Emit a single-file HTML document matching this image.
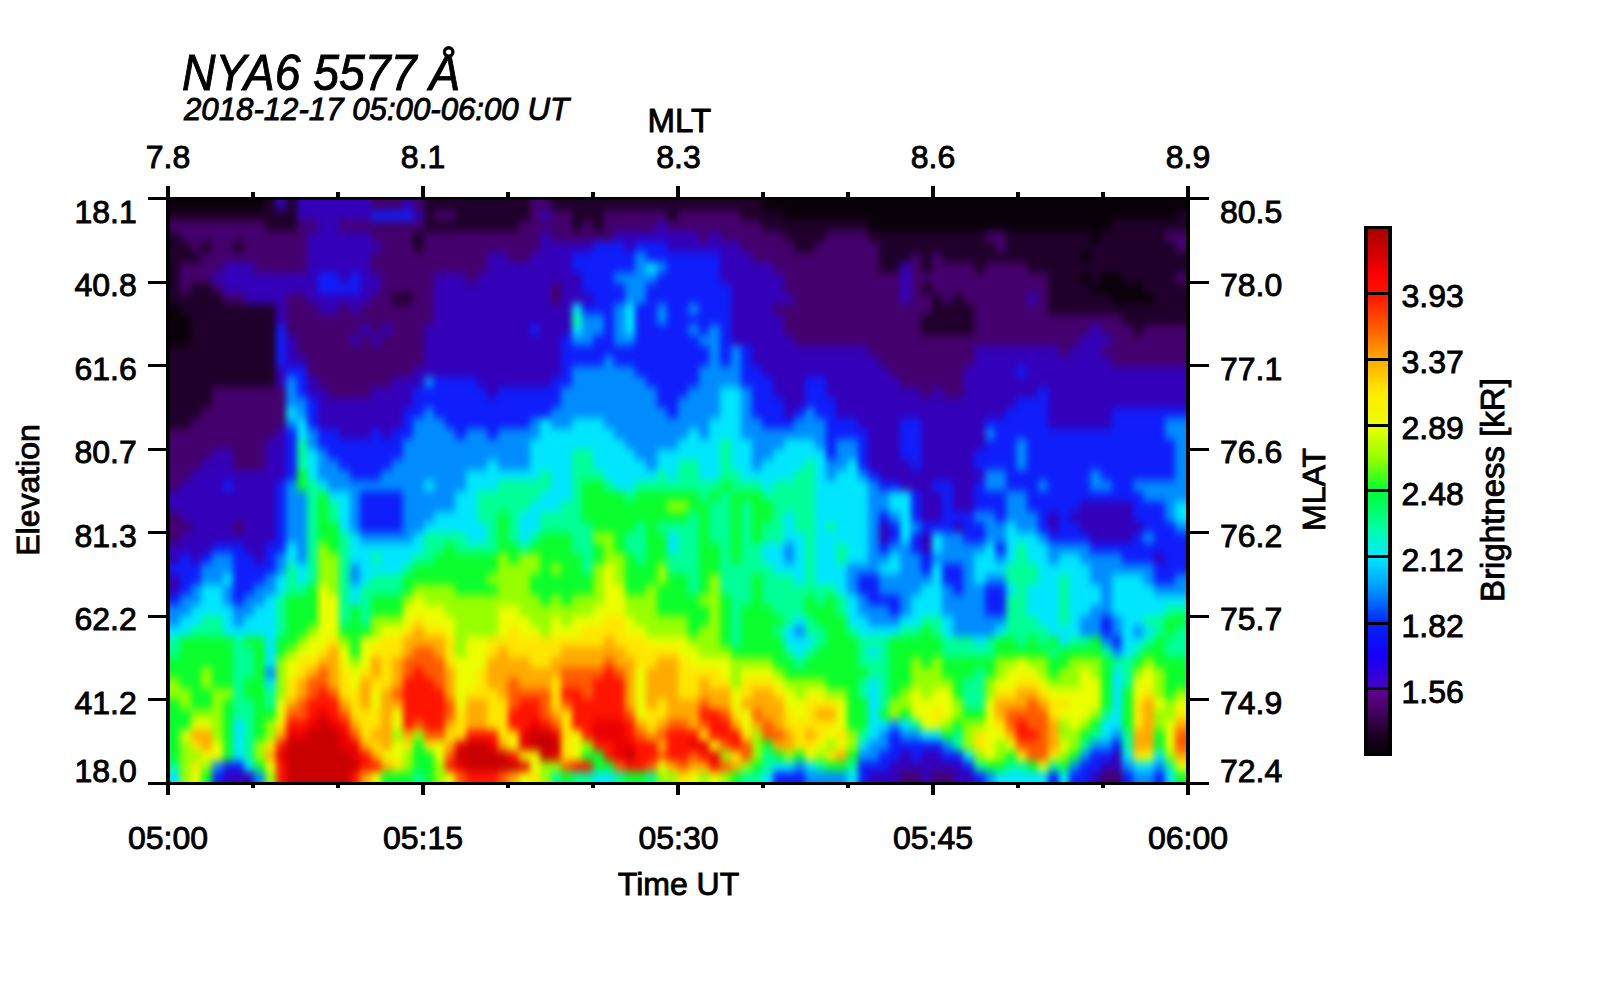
<!DOCTYPE html>
<html><head><meta charset="utf-8"><style>
html,body{margin:0;padding:0;background:#fff;}
body{width:1600px;height:1000px;position:relative;overflow:hidden;font-family:"Liberation Sans",Arial,Helvetica,sans-serif;}
#img{position:absolute;left:170px;top:200px;width:1016px;height:582px;overflow:hidden;}
#inner{position:absolute;left:-12px;top:-12px;width:1040px;height:606px;filter:blur(3px);}
#img i{position:absolute;top:0;height:100%;display:block;}
#cb{position:absolute;left:1364px;top:226px;width:20px;height:524px;border-style:solid;border-color:#000;border-width:3px 4px;background:linear-gradient(#aa0000 0.00%,#d70000 5.00%,#ff0000 8.75%,#ff1400 12.50%,#ff5a00 18.75%,#ffaa00 25.00%,#ffeb00 31.25%,#ebff00 37.50%,#96ff00 43.75%,#00ff32 50.00%,#00ff96 56.25%,#00ebff 62.50%,#0096ff 68.75%,#0028ff 75.00%,#1400fa 81.25%,#4600c8 87.50%,#640096 87.50%,#500073 90.62%,#37004b 93.75%,#19001e 96.88%,#0a000c 100.00%);}
#cb b{position:absolute;left:0;width:100%;height:3px;background:#000;}
svg{position:absolute;left:0;top:0;}
svg text{font-family:"Liberation Sans",Arial,Helvetica,sans-serif;fill:#000;stroke:#000;stroke-width:0.9px;}
</style></head><body>
<div id="img"><div id="inner">
<i style="left:-9.47px;width:11.18px;background:linear-gradient(#0a000a 6.8px,#0a000a 17.2px,#20002a 27.6px,#44006c 38.0px,#20002a 48.4px,#20002a 58.8px,#20002a 69.2px,#20002a 79.6px,#20002a 89.9px,#20002a 100.3px,#20002a 110.7px,#0a000a 121.1px,#0a000a 131.5px,#0a000a 141.9px,#0a000a 152.3px,#20002a 162.7px,#20002a 173.1px,#20002a 183.5px,#20002a 193.9px,#20002a 204.3px,#20002a 214.7px,#20002a 225.1px,#20002a 235.4px,#44006c 245.8px,#44006c 256.2px,#44006c 266.6px,#44006c 277.0px,#44006c 287.4px,#44006c 297.8px,#3400b9 308.2px,#3400b9 318.6px,#44006c 329.0px,#44006c 339.4px,#44006c 349.8px,#3400b9 360.2px,#3400b9 370.6px,#0f1efa 380.9px,#3400b9 391.3px,#3400b9 401.7px,#0f1efa 412.1px,#008cff 422.5px,#008cff 432.9px,#00e6ff 443.3px,#00ff96 453.7px,#00ff96 464.1px,#0aff2d 474.5px,#0aff2d 484.9px,#96ff00 495.3px,#96ff00 505.7px,#0aff2d 516.1px,#0aff2d 526.4px,#0aff2d 536.8px,#0aff2d 547.2px,#0aff2d 557.6px,#0aff2d 568.0px,#00ff96 578.4px,#00e6ff 588.8px,#00e6ff 599.2px)"></i>
<i style="left:1.12px;width:11.18px;background:linear-gradient(#0a000a 6.8px,#0a000a 17.2px,#20002a 27.6px,#44006c 38.0px,#20002a 48.4px,#20002a 58.8px,#20002a 69.2px,#20002a 79.6px,#20002a 89.9px,#20002a 100.3px,#20002a 110.7px,#0a000a 121.1px,#0a000a 131.5px,#0a000a 141.9px,#0a000a 152.3px,#20002a 162.7px,#20002a 173.1px,#20002a 183.5px,#20002a 193.9px,#20002a 204.3px,#20002a 214.7px,#20002a 225.1px,#20002a 235.4px,#44006c 245.8px,#44006c 256.2px,#44006c 266.6px,#44006c 277.0px,#44006c 287.4px,#44006c 297.8px,#3400b9 308.2px,#3400b9 318.6px,#44006c 329.0px,#44006c 339.4px,#44006c 349.8px,#3400b9 360.2px,#3400b9 370.6px,#0f1efa 380.9px,#3400b9 391.3px,#3400b9 401.7px,#0f1efa 412.1px,#008cff 422.5px,#008cff 432.9px,#00e6ff 443.3px,#00ff96 453.7px,#00ff96 464.1px,#0aff2d 474.5px,#0aff2d 484.9px,#96ff00 495.3px,#96ff00 505.7px,#0aff2d 516.1px,#0aff2d 526.4px,#0aff2d 536.8px,#0aff2d 547.2px,#0aff2d 557.6px,#0aff2d 568.0px,#00ff96 578.4px,#00e6ff 588.8px,#00e6ff 599.2px)"></i>
<i style="left:11.70px;width:11.18px;background:linear-gradient(#0a000a 6.8px,#0a000a 17.2px,#20002a 27.6px,#44006c 38.0px,#20002a 48.4px,#20002a 58.8px,#20002a 69.2px,#20002a 79.6px,#20002a 89.9px,#20002a 100.3px,#20002a 110.7px,#0a000a 121.1px,#0a000a 131.5px,#0a000a 141.9px,#0a000a 152.3px,#20002a 162.7px,#20002a 173.1px,#20002a 183.5px,#20002a 193.9px,#20002a 204.3px,#20002a 214.7px,#20002a 225.1px,#20002a 235.4px,#44006c 245.8px,#44006c 256.2px,#44006c 266.6px,#44006c 277.0px,#44006c 287.4px,#44006c 297.8px,#3400b9 308.2px,#3400b9 318.6px,#44006c 329.0px,#44006c 339.4px,#44006c 349.8px,#3400b9 360.2px,#3400b9 370.6px,#0f1efa 380.9px,#3400b9 391.3px,#3400b9 401.7px,#0f1efa 412.1px,#008cff 422.5px,#008cff 432.9px,#00e6ff 443.3px,#00ff96 453.7px,#00ff96 464.1px,#0aff2d 474.5px,#0aff2d 484.9px,#96ff00 495.3px,#96ff00 505.7px,#0aff2d 516.1px,#0aff2d 526.4px,#0aff2d 536.8px,#0aff2d 547.2px,#0aff2d 557.6px,#0aff2d 568.0px,#00ff96 578.4px,#00e6ff 588.8px,#00e6ff 599.2px)"></i>
<i style="left:22.28px;width:11.18px;background:linear-gradient(#0a000a 6.8px,#0a000a 17.2px,#20002a 27.6px,#44006c 38.0px,#44006c 48.4px,#20002a 58.8px,#20002a 69.2px,#44006c 79.6px,#44006c 89.9px,#44006c 100.3px,#20002a 110.7px,#20002a 121.1px,#0a000a 131.5px,#0a000a 141.9px,#0a000a 152.3px,#20002a 162.7px,#20002a 173.1px,#20002a 183.5px,#20002a 193.9px,#20002a 204.3px,#20002a 214.7px,#20002a 225.1px,#20002a 235.4px,#44006c 245.8px,#44006c 256.2px,#44006c 266.6px,#44006c 277.0px,#44006c 287.4px,#3400b9 297.8px,#3400b9 308.2px,#3400b9 318.6px,#3400b9 329.0px,#44006c 339.4px,#3400b9 349.8px,#3400b9 360.2px,#0f1efa 370.6px,#0f1efa 380.9px,#0f1efa 391.3px,#0f1efa 401.7px,#008cff 412.1px,#008cff 422.5px,#00e6ff 432.9px,#00e6ff 443.3px,#0aff2d 453.7px,#0aff2d 464.1px,#0aff2d 474.5px,#0aff2d 484.9px,#0aff2d 495.3px,#96ff00 505.7px,#96ff00 516.1px,#0aff2d 526.4px,#0aff2d 536.8px,#ebff00 547.2px,#96ff00 557.6px,#96ff00 568.0px,#96ff00 578.4px,#96ff00 588.8px,#96ff00 599.2px)"></i>
<i style="left:32.87px;width:11.18px;background:linear-gradient(#0a000a 6.8px,#0a000a 17.2px,#20002a 27.6px,#44006c 38.0px,#44006c 48.4px,#44006c 58.8px,#20002a 69.2px,#44006c 79.6px,#44006c 89.9px,#20002a 100.3px,#20002a 110.7px,#20002a 121.1px,#20002a 131.5px,#20002a 141.9px,#20002a 152.3px,#20002a 162.7px,#20002a 173.1px,#20002a 183.5px,#20002a 193.9px,#20002a 204.3px,#20002a 214.7px,#20002a 225.1px,#44006c 235.4px,#44006c 245.8px,#44006c 256.2px,#44006c 266.6px,#44006c 277.0px,#3400b9 287.4px,#3400b9 297.8px,#3400b9 308.2px,#3400b9 318.6px,#3400b9 329.0px,#3400b9 339.4px,#3400b9 349.8px,#3400b9 360.2px,#3400b9 370.6px,#0f1efa 380.9px,#0f1efa 391.3px,#008cff 401.7px,#008cff 412.1px,#00e6ff 422.5px,#00e6ff 432.9px,#00ff96 443.3px,#0aff2d 453.7px,#0aff2d 464.1px,#0aff2d 474.5px,#0aff2d 484.9px,#0aff2d 495.3px,#0aff2d 505.7px,#0aff2d 516.1px,#96ff00 526.4px,#ebff00 536.8px,#ffaa00 547.2px,#ffe600 557.6px,#96ff00 568.0px,#ffe600 578.4px,#ebff00 588.8px,#ebff00 599.2px)"></i>
<i style="left:43.45px;width:11.18px;background:linear-gradient(#0a000a 6.8px,#0a000a 17.2px,#20002a 27.6px,#44006c 38.0px,#44006c 48.4px,#20002a 58.8px,#44006c 69.2px,#44006c 79.6px,#44006c 89.9px,#20002a 100.3px,#20002a 110.7px,#20002a 121.1px,#20002a 131.5px,#20002a 141.9px,#20002a 152.3px,#20002a 162.7px,#20002a 173.1px,#20002a 183.5px,#20002a 193.9px,#20002a 204.3px,#20002a 214.7px,#44006c 225.1px,#44006c 235.4px,#44006c 245.8px,#44006c 256.2px,#44006c 266.6px,#3400b9 277.0px,#3400b9 287.4px,#3400b9 297.8px,#3400b9 308.2px,#3400b9 318.6px,#3400b9 329.0px,#3400b9 339.4px,#3400b9 349.8px,#3400b9 360.2px,#0f1efa 370.6px,#008cff 380.9px,#008cff 391.3px,#00e6ff 401.7px,#00e6ff 412.1px,#00e6ff 422.5px,#00ff96 432.9px,#00ff96 443.3px,#0aff2d 453.7px,#0aff2d 464.1px,#0aff2d 474.5px,#96ff00 484.9px,#96ff00 495.3px,#0aff2d 505.7px,#0aff2d 516.1px,#96ff00 526.4px,#ebff00 536.8px,#ffaa00 547.2px,#ffaa00 557.6px,#ebff00 568.0px,#96ff00 578.4px,#0aff2d 588.8px,#0aff2d 599.2px)"></i>
<i style="left:54.03px;width:11.18px;background:linear-gradient(#0a000a 6.8px,#0a000a 17.2px,#20002a 27.6px,#44006c 38.0px,#44006c 48.4px,#44006c 58.8px,#44006c 69.2px,#44006c 79.6px,#3400b9 89.9px,#44006c 100.3px,#20002a 110.7px,#20002a 121.1px,#20002a 131.5px,#20002a 141.9px,#20002a 152.3px,#20002a 162.7px,#20002a 173.1px,#20002a 183.5px,#20002a 193.9px,#44006c 204.3px,#44006c 214.7px,#44006c 225.1px,#44006c 235.4px,#44006c 245.8px,#44006c 256.2px,#3400b9 266.6px,#3400b9 277.0px,#3400b9 287.4px,#3400b9 297.8px,#3400b9 308.2px,#3400b9 318.6px,#3400b9 329.0px,#3400b9 339.4px,#3400b9 349.8px,#0f1efa 360.2px,#008cff 370.6px,#008cff 380.9px,#008cff 391.3px,#00e6ff 401.7px,#00e6ff 412.1px,#00e6ff 422.5px,#00ff96 432.9px,#00ff96 443.3px,#0aff2d 453.7px,#0aff2d 464.1px,#0aff2d 474.5px,#0aff2d 484.9px,#0aff2d 495.3px,#96ff00 505.7px,#96ff00 516.1px,#96ff00 526.4px,#96ff00 536.8px,#96ff00 547.2px,#ebff00 557.6px,#ebff00 568.0px,#008cff 578.4px,#0f1efa 588.8px,#0f1efa 599.2px)"></i>
<i style="left:64.62px;width:11.18px;background:linear-gradient(#0a000a 6.8px,#0a000a 17.2px,#20002a 27.6px,#44006c 38.0px,#44006c 48.4px,#44006c 58.8px,#44006c 69.2px,#3400b9 79.6px,#3400b9 89.9px,#3400b9 100.3px,#44006c 110.7px,#20002a 121.1px,#20002a 131.5px,#20002a 141.9px,#20002a 152.3px,#20002a 162.7px,#20002a 173.1px,#20002a 183.5px,#20002a 193.9px,#44006c 204.3px,#44006c 214.7px,#44006c 225.1px,#44006c 235.4px,#44006c 245.8px,#44006c 256.2px,#3400b9 266.6px,#3400b9 277.0px,#3400b9 287.4px,#0f1efa 297.8px,#3400b9 308.2px,#3400b9 318.6px,#3400b9 329.0px,#3400b9 339.4px,#3400b9 349.8px,#0f1efa 360.2px,#008cff 370.6px,#008cff 380.9px,#00e6ff 391.3px,#008cff 401.7px,#008cff 412.1px,#00e6ff 422.5px,#00e6ff 432.9px,#00e6ff 443.3px,#0aff2d 453.7px,#0aff2d 464.1px,#0aff2d 474.5px,#0aff2d 484.9px,#0aff2d 495.3px,#96ff00 505.7px,#0aff2d 516.1px,#0aff2d 526.4px,#0aff2d 536.8px,#0aff2d 547.2px,#0aff2d 557.6px,#0aff2d 568.0px,#0f1efa 578.4px,#3400b9 588.8px,#3400b9 599.2px)"></i>
<i style="left:75.20px;width:11.18px;background:linear-gradient(#0a000a 6.8px,#0a000a 17.2px,#20002a 27.6px,#44006c 38.0px,#44006c 48.4px,#20002a 58.8px,#44006c 69.2px,#3400b9 79.6px,#3400b9 89.9px,#3400b9 100.3px,#44006c 110.7px,#20002a 121.1px,#20002a 131.5px,#20002a 141.9px,#20002a 152.3px,#20002a 162.7px,#20002a 173.1px,#20002a 183.5px,#20002a 193.9px,#44006c 204.3px,#44006c 214.7px,#44006c 225.1px,#44006c 235.4px,#44006c 245.8px,#44006c 256.2px,#44006c 266.6px,#44006c 277.0px,#3400b9 287.4px,#3400b9 297.8px,#3400b9 308.2px,#3400b9 318.6px,#3400b9 329.0px,#44006c 339.4px,#3400b9 349.8px,#0f1efa 360.2px,#0f1efa 370.6px,#0f1efa 380.9px,#0f1efa 391.3px,#0f1efa 401.7px,#0f1efa 412.1px,#008cff 422.5px,#008cff 432.9px,#00e6ff 443.3px,#00ff96 453.7px,#00ff96 464.1px,#00ff96 474.5px,#00ff96 484.9px,#00ff96 495.3px,#00ff96 505.7px,#00ff96 516.1px,#00ff96 526.4px,#00e6ff 536.8px,#00e6ff 547.2px,#00e6ff 557.6px,#00e6ff 568.0px,#0f1efa 578.4px,#3400b9 588.8px,#3400b9 599.2px)"></i>
<i style="left:85.78px;width:11.18px;background:linear-gradient(#0a000a 6.8px,#0a000a 17.2px,#20002a 27.6px,#44006c 38.0px,#44006c 48.4px,#44006c 58.8px,#44006c 69.2px,#3400b9 79.6px,#3400b9 89.9px,#3400b9 100.3px,#3400b9 110.7px,#20002a 121.1px,#20002a 131.5px,#20002a 141.9px,#20002a 152.3px,#20002a 162.7px,#20002a 173.1px,#20002a 183.5px,#20002a 193.9px,#44006c 204.3px,#44006c 214.7px,#44006c 225.1px,#44006c 235.4px,#44006c 245.8px,#44006c 256.2px,#44006c 266.6px,#44006c 277.0px,#3400b9 287.4px,#3400b9 297.8px,#3400b9 308.2px,#3400b9 318.6px,#3400b9 329.0px,#3400b9 339.4px,#3400b9 349.8px,#3400b9 360.2px,#0f1efa 370.6px,#0f1efa 380.9px,#0f1efa 391.3px,#0f1efa 401.7px,#008cff 412.1px,#008cff 422.5px,#00e6ff 432.9px,#00e6ff 443.3px,#0aff2d 453.7px,#00ff96 464.1px,#00ff96 474.5px,#00ff96 484.9px,#0aff2d 495.3px,#0aff2d 505.7px,#00ff96 516.1px,#00ff96 526.4px,#00ff96 536.8px,#00ff96 547.2px,#00ff96 557.6px,#00ff96 568.0px,#00e6ff 578.4px,#3400b9 588.8px,#3400b9 599.2px)"></i>
<i style="left:96.37px;width:11.18px;background:linear-gradient(#0a000a 6.8px,#0a000a 17.2px,#20002a 27.6px,#44006c 38.0px,#44006c 48.4px,#44006c 58.8px,#44006c 69.2px,#44006c 79.6px,#3400b9 89.9px,#3400b9 100.3px,#3400b9 110.7px,#20002a 121.1px,#20002a 131.5px,#20002a 141.9px,#20002a 152.3px,#20002a 162.7px,#20002a 173.1px,#20002a 183.5px,#20002a 193.9px,#44006c 204.3px,#44006c 214.7px,#44006c 225.1px,#44006c 235.4px,#44006c 245.8px,#44006c 256.2px,#44006c 266.6px,#44006c 277.0px,#3400b9 287.4px,#3400b9 297.8px,#3400b9 308.2px,#3400b9 318.6px,#3400b9 329.0px,#3400b9 339.4px,#3400b9 349.8px,#3400b9 360.2px,#3400b9 370.6px,#0f1efa 380.9px,#0f1efa 391.3px,#008cff 401.7px,#008cff 412.1px,#00e6ff 422.5px,#00e6ff 432.9px,#00e6ff 443.3px,#0aff2d 453.7px,#0aff2d 464.1px,#0aff2d 474.5px,#0aff2d 484.9px,#0aff2d 495.3px,#0aff2d 505.7px,#0aff2d 516.1px,#0aff2d 526.4px,#0aff2d 536.8px,#0aff2d 547.2px,#96ff00 557.6px,#96ff00 568.0px,#0aff2d 578.4px,#008cff 588.8px,#008cff 599.2px)"></i>
<i style="left:106.95px;width:11.18px;background:linear-gradient(#20002a 6.8px,#20002a 17.2px,#20002a 27.6px,#20002a 38.0px,#44006c 48.4px,#44006c 58.8px,#44006c 69.2px,#44006c 79.6px,#3400b9 89.9px,#3400b9 100.3px,#3400b9 110.7px,#20002a 121.1px,#20002a 131.5px,#20002a 141.9px,#20002a 152.3px,#20002a 162.7px,#20002a 173.1px,#20002a 183.5px,#20002a 193.9px,#44006c 204.3px,#44006c 214.7px,#44006c 225.1px,#44006c 235.4px,#44006c 245.8px,#3400b9 256.2px,#3400b9 266.6px,#3400b9 277.0px,#3400b9 287.4px,#3400b9 297.8px,#3400b9 308.2px,#3400b9 318.6px,#3400b9 329.0px,#3400b9 339.4px,#3400b9 349.8px,#0f1efa 360.2px,#0f1efa 370.6px,#0f1efa 380.9px,#008cff 391.3px,#008cff 401.7px,#00e6ff 412.1px,#00e6ff 422.5px,#00e6ff 432.9px,#00e6ff 443.3px,#00e6ff 453.7px,#00e6ff 464.1px,#00e6ff 474.5px,#008cff 484.9px,#00e6ff 495.3px,#00ff96 505.7px,#00ff96 516.1px,#0aff2d 526.4px,#96ff00 536.8px,#96ff00 547.2px,#ffe600 557.6px,#ffaa00 568.0px,#ebff00 578.4px,#96ff00 588.8px,#96ff00 599.2px)"></i>
<i style="left:117.53px;width:11.18px;background:linear-gradient(#3400b9 6.8px,#3400b9 17.2px,#20002a 27.6px,#20002a 38.0px,#44006c 48.4px,#44006c 58.8px,#44006c 69.2px,#44006c 79.6px,#3400b9 89.9px,#3400b9 100.3px,#3400b9 110.7px,#3400b9 121.1px,#3400b9 131.5px,#0f1efa 141.9px,#0f1efa 152.3px,#0f1efa 162.7px,#0f1efa 173.1px,#3400b9 183.5px,#3400b9 193.9px,#44006c 204.3px,#44006c 214.7px,#44006c 225.1px,#44006c 235.4px,#3400b9 245.8px,#3400b9 256.2px,#3400b9 266.6px,#3400b9 277.0px,#3400b9 287.4px,#0f1efa 297.8px,#0f1efa 308.2px,#0f1efa 318.6px,#0f1efa 329.0px,#0f1efa 339.4px,#0f1efa 349.8px,#0f1efa 360.2px,#008cff 370.6px,#008cff 380.9px,#00e6ff 391.3px,#00e6ff 401.7px,#00ff96 412.1px,#00ff96 422.5px,#00ff96 432.9px,#00ff96 443.3px,#0aff2d 453.7px,#0aff2d 464.1px,#96ff00 474.5px,#96ff00 484.9px,#96ff00 495.3px,#96ff00 505.7px,#ebff00 516.1px,#ebff00 526.4px,#ffe600 536.8px,#ffaa00 547.2px,#ff1400 557.6px,#eb0000 568.0px,#ff1400 578.4px,#ff1400 588.8px,#ff1400 599.2px)"></i>
<i style="left:128.12px;width:11.18px;background:linear-gradient(#20002a 6.8px,#20002a 17.2px,#20002a 27.6px,#20002a 38.0px,#44006c 48.4px,#44006c 58.8px,#44006c 69.2px,#44006c 79.6px,#3400b9 89.9px,#3400b9 100.3px,#44006c 110.7px,#44006c 121.1px,#44006c 131.5px,#44006c 141.9px,#3400b9 152.3px,#3400b9 162.7px,#3400b9 173.1px,#0f1efa 183.5px,#008cff 193.9px,#008cff 204.3px,#008cff 214.7px,#00e6ff 225.1px,#008cff 235.4px,#0f1efa 245.8px,#0f1efa 256.2px,#0f1efa 266.6px,#0f1efa 277.0px,#0f1efa 287.4px,#008cff 297.8px,#008cff 308.2px,#008cff 318.6px,#008cff 329.0px,#008cff 339.4px,#008cff 349.8px,#00e6ff 360.2px,#00e6ff 370.6px,#00ff96 380.9px,#00ff96 391.3px,#00ff96 401.7px,#0aff2d 412.1px,#0aff2d 422.5px,#0aff2d 432.9px,#0aff2d 443.3px,#0aff2d 453.7px,#96ff00 464.1px,#ebff00 474.5px,#ebff00 484.9px,#ffe600 495.3px,#ffe600 505.7px,#ffaa00 516.1px,#ff5a00 526.4px,#ff1400 536.8px,#eb0000 547.2px,#c80000 557.6px,#c80000 568.0px,#c80000 578.4px,#c80000 588.8px,#c80000 599.2px)"></i>
<i style="left:138.70px;width:11.18px;background:linear-gradient(#3400b9 6.8px,#3400b9 17.2px,#3400b9 27.6px,#44006c 38.0px,#44006c 48.4px,#44006c 58.8px,#44006c 69.2px,#44006c 79.6px,#3400b9 89.9px,#3400b9 100.3px,#44006c 110.7px,#44006c 121.1px,#44006c 131.5px,#44006c 141.9px,#44006c 152.3px,#44006c 162.7px,#3400b9 173.1px,#0f1efa 183.5px,#0f1efa 193.9px,#0f1efa 204.3px,#008cff 214.7px,#008cff 225.1px,#00e6ff 235.4px,#00e6ff 245.8px,#00ff96 256.2px,#00ff96 266.6px,#00ff96 277.0px,#0aff2d 287.4px,#0aff2d 297.8px,#008cff 308.2px,#008cff 318.6px,#008cff 329.0px,#008cff 339.4px,#008cff 349.8px,#008cff 360.2px,#008cff 370.6px,#00e6ff 380.9px,#00e6ff 391.3px,#00ff96 401.7px,#0aff2d 412.1px,#0aff2d 422.5px,#0aff2d 432.9px,#0aff2d 443.3px,#96ff00 453.7px,#ebff00 464.1px,#ffe600 474.5px,#ffe600 484.9px,#ffaa00 495.3px,#ffaa00 505.7px,#ff5a00 516.1px,#ff5a00 526.4px,#ff1400 536.8px,#eb0000 547.2px,#c80000 557.6px,#c80000 568.0px,#c80000 578.4px,#c80000 588.8px,#c80000 599.2px)"></i>
<i style="left:149.28px;width:11.18px;background:linear-gradient(#3400b9 6.8px,#3400b9 17.2px,#3400b9 27.6px,#44006c 38.0px,#3400b9 48.4px,#3400b9 58.8px,#3400b9 69.2px,#3400b9 79.6px,#3400b9 89.9px,#3400b9 100.3px,#3400b9 110.7px,#44006c 121.1px,#44006c 131.5px,#44006c 141.9px,#44006c 152.3px,#44006c 162.7px,#44006c 173.1px,#44006c 183.5px,#3400b9 193.9px,#3400b9 204.3px,#0f1efa 214.7px,#0f1efa 225.1px,#0f1efa 235.4px,#008cff 245.8px,#008cff 256.2px,#00e6ff 266.6px,#00e6ff 277.0px,#00e6ff 287.4px,#00ff96 297.8px,#00ff96 308.2px,#00ff96 318.6px,#00ff96 329.0px,#00ff96 339.4px,#00ff96 349.8px,#00ff96 360.2px,#00ff96 370.6px,#00ff96 380.9px,#00ff96 391.3px,#0aff2d 401.7px,#0aff2d 412.1px,#0aff2d 422.5px,#0aff2d 432.9px,#96ff00 443.3px,#ebff00 453.7px,#ebff00 464.1px,#ffe600 474.5px,#ffaa00 484.9px,#ff5a00 495.3px,#ff5a00 505.7px,#ff1400 516.1px,#ff1400 526.4px,#eb0000 536.8px,#c80000 547.2px,#c80000 557.6px,#c80000 568.0px,#c80000 578.4px,#c80000 588.8px,#c80000 599.2px)"></i>
<i style="left:159.87px;width:11.18px;background:linear-gradient(#3400b9 6.8px,#3400b9 17.2px,#3400b9 27.6px,#3400b9 38.0px,#3400b9 48.4px,#3400b9 58.8px,#3400b9 69.2px,#3400b9 79.6px,#0f1efa 89.9px,#0f1efa 100.3px,#3400b9 110.7px,#3400b9 121.1px,#44006c 131.5px,#44006c 141.9px,#44006c 152.3px,#44006c 162.7px,#44006c 173.1px,#44006c 183.5px,#44006c 193.9px,#3400b9 204.3px,#3400b9 214.7px,#3400b9 225.1px,#3400b9 235.4px,#0f1efa 245.8px,#0f1efa 256.2px,#008cff 266.6px,#008cff 277.0px,#008cff 287.4px,#00e6ff 297.8px,#0aff2d 308.2px,#0aff2d 318.6px,#0aff2d 329.0px,#0aff2d 339.4px,#0aff2d 349.8px,#96ff00 360.2px,#96ff00 370.6px,#96ff00 380.9px,#96ff00 391.3px,#ebff00 401.7px,#ebff00 412.1px,#ebff00 422.5px,#ebff00 432.9px,#ebff00 443.3px,#ebff00 453.7px,#ffe600 464.1px,#ffaa00 474.5px,#ff5a00 484.9px,#ff5a00 495.3px,#ff1400 505.7px,#ff1400 516.1px,#eb0000 526.4px,#c80000 536.8px,#c80000 547.2px,#c80000 557.6px,#c80000 568.0px,#c80000 578.4px,#c80000 588.8px,#c80000 599.2px)"></i>
<i style="left:170.45px;width:11.18px;background:linear-gradient(#3400b9 6.8px,#3400b9 17.2px,#3400b9 27.6px,#3400b9 38.0px,#3400b9 48.4px,#3400b9 58.8px,#3400b9 69.2px,#3400b9 79.6px,#0f1efa 89.9px,#0f1efa 100.3px,#3400b9 110.7px,#3400b9 121.1px,#44006c 131.5px,#44006c 141.9px,#44006c 152.3px,#44006c 162.7px,#44006c 173.1px,#44006c 183.5px,#44006c 193.9px,#44006c 204.3px,#3400b9 214.7px,#3400b9 225.1px,#3400b9 235.4px,#0f1efa 245.8px,#0f1efa 256.2px,#0f1efa 266.6px,#008cff 277.0px,#008cff 287.4px,#008cff 297.8px,#00e6ff 308.2px,#00ff96 318.6px,#00ff96 329.0px,#0aff2d 339.4px,#0aff2d 349.8px,#0aff2d 360.2px,#96ff00 370.6px,#96ff00 380.9px,#96ff00 391.3px,#96ff00 401.7px,#ebff00 412.1px,#ebff00 422.5px,#ebff00 432.9px,#ebff00 443.3px,#ffe600 453.7px,#ffaa00 464.1px,#ffaa00 474.5px,#ffaa00 484.9px,#ffaa00 495.3px,#ff5a00 505.7px,#ff1400 516.1px,#ff1400 526.4px,#eb0000 536.8px,#c80000 547.2px,#c80000 557.6px,#c80000 568.0px,#c80000 578.4px,#c80000 588.8px,#c80000 599.2px)"></i>
<i style="left:181.03px;width:11.18px;background:linear-gradient(#3400b9 6.8px,#3400b9 17.2px,#3400b9 27.6px,#44006c 38.0px,#3400b9 48.4px,#3400b9 58.8px,#3400b9 69.2px,#3400b9 79.6px,#3400b9 89.9px,#0f1efa 100.3px,#3400b9 110.7px,#44006c 121.1px,#44006c 131.5px,#44006c 141.9px,#44006c 152.3px,#44006c 162.7px,#44006c 173.1px,#44006c 183.5px,#44006c 193.9px,#44006c 204.3px,#3400b9 214.7px,#3400b9 225.1px,#3400b9 235.4px,#3400b9 245.8px,#0f1efa 256.2px,#0f1efa 266.6px,#0f1efa 277.0px,#008cff 287.4px,#008cff 297.8px,#00e6ff 308.2px,#00e6ff 318.6px,#00e6ff 329.0px,#00e6ff 339.4px,#00ff96 349.8px,#00ff96 360.2px,#00ff96 370.6px,#00ff96 380.9px,#00ff96 391.3px,#00ff96 401.7px,#00ff96 412.1px,#00ff96 422.5px,#00ff96 432.9px,#0aff2d 443.3px,#96ff00 453.7px,#ebff00 464.1px,#ebff00 474.5px,#ffe600 484.9px,#ffe600 495.3px,#ffe600 505.7px,#ffaa00 516.1px,#ff5a00 526.4px,#ff1400 536.8px,#eb0000 547.2px,#eb0000 557.6px,#c80000 568.0px,#c80000 578.4px,#c80000 588.8px,#c80000 599.2px)"></i>
<i style="left:191.62px;width:11.18px;background:linear-gradient(#3400b9 6.8px,#3400b9 17.2px,#3400b9 27.6px,#44006c 38.0px,#3400b9 48.4px,#3400b9 58.8px,#3400b9 69.2px,#3400b9 79.6px,#0f1efa 89.9px,#0f1efa 100.3px,#3400b9 110.7px,#3400b9 121.1px,#44006c 131.5px,#44006c 141.9px,#3400b9 152.3px,#44006c 162.7px,#44006c 173.1px,#44006c 183.5px,#44006c 193.9px,#44006c 204.3px,#3400b9 214.7px,#3400b9 225.1px,#3400b9 235.4px,#3400b9 245.8px,#0f1efa 256.2px,#0f1efa 266.6px,#0f1efa 277.0px,#0f1efa 287.4px,#008cff 297.8px,#008cff 308.2px,#008cff 318.6px,#008cff 329.0px,#008cff 339.4px,#00e6ff 349.8px,#00e6ff 360.2px,#00e6ff 370.6px,#008cff 380.9px,#008cff 391.3px,#00e6ff 401.7px,#00e6ff 412.1px,#0aff2d 422.5px,#0aff2d 432.9px,#0aff2d 443.3px,#0aff2d 453.7px,#0aff2d 464.1px,#96ff00 474.5px,#ebff00 484.9px,#ebff00 495.3px,#ffe600 505.7px,#ffe600 516.1px,#ffe600 526.4px,#ffaa00 536.8px,#ff5a00 547.2px,#eb0000 557.6px,#eb0000 568.0px,#c80000 578.4px,#ff1400 588.8px,#ff1400 599.2px)"></i>
<i style="left:202.20px;width:11.18px;background:linear-gradient(#3400b9 6.8px,#3400b9 17.2px,#3400b9 27.6px,#44006c 38.0px,#3400b9 48.4px,#3400b9 58.8px,#3400b9 69.2px,#3400b9 79.6px,#3400b9 89.9px,#3400b9 100.3px,#3400b9 110.7px,#44006c 121.1px,#44006c 131.5px,#3400b9 141.9px,#44006c 152.3px,#44006c 162.7px,#44006c 173.1px,#44006c 183.5px,#44006c 193.9px,#44006c 204.3px,#3400b9 214.7px,#3400b9 225.1px,#3400b9 235.4px,#3400b9 245.8px,#0f1efa 256.2px,#0f1efa 266.6px,#0f1efa 277.0px,#0f1efa 287.4px,#008cff 297.8px,#0f1efa 308.2px,#0f1efa 318.6px,#0f1efa 329.0px,#0f1efa 339.4px,#008cff 349.8px,#00e6ff 360.2px,#00e6ff 370.6px,#00e6ff 380.9px,#00e6ff 391.3px,#00ff96 401.7px,#00ff96 412.1px,#00ff96 422.5px,#00ff96 432.9px,#0aff2d 443.3px,#ebff00 453.7px,#ebff00 464.1px,#ebff00 474.5px,#ffe600 484.9px,#ffaa00 495.3px,#ffaa00 505.7px,#ffaa00 516.1px,#ffe600 526.4px,#ffe600 536.8px,#ffe600 547.2px,#ffaa00 557.6px,#ff1400 568.0px,#ff1400 578.4px,#ffaa00 588.8px,#ffaa00 599.2px)"></i>
<i style="left:212.78px;width:11.18px;background:linear-gradient(#44006c 6.8px,#44006c 17.2px,#0f1efa 27.6px,#44006c 38.0px,#44006c 48.4px,#3400b9 58.8px,#44006c 69.2px,#44006c 79.6px,#3400b9 89.9px,#3400b9 100.3px,#44006c 110.7px,#44006c 121.1px,#44006c 131.5px,#44006c 141.9px,#3400b9 152.3px,#44006c 162.7px,#44006c 173.1px,#44006c 183.5px,#44006c 193.9px,#3400b9 204.3px,#3400b9 214.7px,#3400b9 225.1px,#3400b9 235.4px,#0f1efa 245.8px,#0f1efa 256.2px,#0f1efa 266.6px,#0f1efa 277.0px,#0f1efa 287.4px,#008cff 297.8px,#0f1efa 308.2px,#0f1efa 318.6px,#0f1efa 329.0px,#0f1efa 339.4px,#008cff 349.8px,#00e6ff 360.2px,#00ff96 370.6px,#00e6ff 380.9px,#00ff96 391.3px,#00ff96 401.7px,#0aff2d 412.1px,#0aff2d 422.5px,#96ff00 432.9px,#96ff00 443.3px,#ebff00 453.7px,#ffe600 464.1px,#ffaa00 474.5px,#ffaa00 484.9px,#ffe600 495.3px,#ebff00 505.7px,#ebff00 516.1px,#ffe600 526.4px,#ffe600 536.8px,#ffaa00 547.2px,#ffe600 557.6px,#ffaa00 568.0px,#ff1400 578.4px,#ebff00 588.8px,#ebff00 599.2px)"></i>
<i style="left:223.37px;width:11.18px;background:linear-gradient(#44006c 6.8px,#44006c 17.2px,#0f1efa 27.6px,#44006c 38.0px,#44006c 48.4px,#44006c 58.8px,#44006c 69.2px,#44006c 79.6px,#44006c 89.9px,#44006c 100.3px,#44006c 110.7px,#44006c 121.1px,#44006c 131.5px,#3400b9 141.9px,#44006c 152.3px,#44006c 162.7px,#44006c 173.1px,#44006c 183.5px,#44006c 193.9px,#3400b9 204.3px,#3400b9 214.7px,#3400b9 225.1px,#3400b9 235.4px,#3400b9 245.8px,#0f1efa 256.2px,#0f1efa 266.6px,#0f1efa 277.0px,#008cff 287.4px,#008cff 297.8px,#0f1efa 308.2px,#0f1efa 318.6px,#0f1efa 329.0px,#0f1efa 339.4px,#008cff 349.8px,#00e6ff 360.2px,#00e6ff 370.6px,#00e6ff 380.9px,#00ff96 391.3px,#00ff96 401.7px,#0aff2d 412.1px,#0aff2d 422.5px,#96ff00 432.9px,#ebff00 443.3px,#ffe600 453.7px,#ffe600 464.1px,#ffe600 474.5px,#ffe600 484.9px,#ffe600 495.3px,#ffaa00 505.7px,#ffaa00 516.1px,#ffaa00 526.4px,#ffaa00 536.8px,#ffaa00 547.2px,#ffaa00 557.6px,#ebff00 568.0px,#ffaa00 578.4px,#0aff2d 588.8px,#0aff2d 599.2px)"></i>
<i style="left:233.95px;width:11.18px;background:linear-gradient(#44006c 6.8px,#44006c 17.2px,#0f1efa 27.6px,#44006c 38.0px,#44006c 48.4px,#44006c 58.8px,#44006c 69.2px,#44006c 79.6px,#44006c 89.9px,#44006c 100.3px,#20002a 110.7px,#44006c 121.1px,#44006c 131.5px,#44006c 141.9px,#44006c 152.3px,#44006c 162.7px,#44006c 173.1px,#44006c 183.5px,#3400b9 193.9px,#3400b9 204.3px,#3400b9 214.7px,#3400b9 225.1px,#3400b9 235.4px,#0f1efa 245.8px,#0f1efa 256.2px,#0f1efa 266.6px,#008cff 277.0px,#008cff 287.4px,#008cff 297.8px,#0f1efa 308.2px,#0f1efa 318.6px,#0f1efa 329.0px,#0f1efa 339.4px,#008cff 349.8px,#00e6ff 360.2px,#00e6ff 370.6px,#00e6ff 380.9px,#00ff96 391.3px,#00ff96 401.7px,#0aff2d 412.1px,#0aff2d 422.5px,#96ff00 432.9px,#ebff00 443.3px,#ffe600 453.7px,#ffe600 464.1px,#ffaa00 474.5px,#ffaa00 484.9px,#ffaa00 495.3px,#ff5a00 505.7px,#ffaa00 516.1px,#ebff00 526.4px,#ebff00 536.8px,#96ff00 547.2px,#ebff00 557.6px,#ebff00 568.0px,#ffe600 578.4px,#0aff2d 588.8px,#0aff2d 599.2px)"></i>
<i style="left:244.53px;width:11.18px;background:linear-gradient(#3400b9 6.8px,#3400b9 17.2px,#0f1efa 27.6px,#44006c 38.0px,#44006c 48.4px,#44006c 58.8px,#44006c 69.2px,#44006c 79.6px,#44006c 89.9px,#44006c 100.3px,#20002a 110.7px,#44006c 121.1px,#44006c 131.5px,#44006c 141.9px,#44006c 152.3px,#44006c 162.7px,#44006c 173.1px,#44006c 183.5px,#3400b9 193.9px,#3400b9 204.3px,#3400b9 214.7px,#0f1efa 225.1px,#0f1efa 235.4px,#0f1efa 245.8px,#008cff 256.2px,#008cff 266.6px,#008cff 277.0px,#008cff 287.4px,#008cff 297.8px,#008cff 308.2px,#008cff 318.6px,#008cff 329.0px,#008cff 339.4px,#008cff 349.8px,#00e6ff 360.2px,#00e6ff 370.6px,#00ff96 380.9px,#0aff2d 391.3px,#0aff2d 401.7px,#96ff00 412.1px,#ebff00 422.5px,#ebff00 432.9px,#ffe600 443.3px,#ffaa00 453.7px,#ffaa00 464.1px,#ff5a00 474.5px,#ff5a00 484.9px,#ff1400 495.3px,#ff1400 505.7px,#ff1400 516.1px,#ff1400 526.4px,#ff1400 536.8px,#ffaa00 547.2px,#ffe600 557.6px,#96ff00 568.0px,#96ff00 578.4px,#0aff2d 588.8px,#0aff2d 599.2px)"></i>
<i style="left:255.12px;width:11.18px;background:linear-gradient(#44006c 6.8px,#44006c 17.2px,#3400b9 27.6px,#44006c 38.0px,#20002a 48.4px,#20002a 58.8px,#44006c 69.2px,#44006c 79.6px,#44006c 89.9px,#44006c 100.3px,#44006c 110.7px,#44006c 121.1px,#44006c 131.5px,#44006c 141.9px,#44006c 152.3px,#44006c 162.7px,#44006c 173.1px,#3400b9 183.5px,#3400b9 193.9px,#0f1efa 204.3px,#0f1efa 214.7px,#0f1efa 225.1px,#008cff 235.4px,#008cff 245.8px,#008cff 256.2px,#008cff 266.6px,#008cff 277.0px,#008cff 287.4px,#008cff 297.8px,#008cff 308.2px,#008cff 318.6px,#008cff 329.0px,#008cff 339.4px,#00e6ff 349.8px,#00e6ff 360.2px,#00ff96 370.6px,#0aff2d 380.9px,#0aff2d 391.3px,#96ff00 401.7px,#ebff00 412.1px,#ebff00 422.5px,#ffe600 432.9px,#ffaa00 443.3px,#ffaa00 453.7px,#ff5a00 464.1px,#ff5a00 474.5px,#ff1400 484.9px,#ff1400 495.3px,#ff1400 505.7px,#ff1400 516.1px,#ff1400 526.4px,#ff5a00 536.8px,#96ff00 547.2px,#0aff2d 557.6px,#0aff2d 568.0px,#0aff2d 578.4px,#00ff96 588.8px,#00ff96 599.2px)"></i>
<i style="left:265.70px;width:11.18px;background:linear-gradient(#20002a 6.8px,#20002a 17.2px,#20002a 27.6px,#20002a 38.0px,#44006c 48.4px,#44006c 58.8px,#44006c 69.2px,#44006c 79.6px,#44006c 89.9px,#44006c 100.3px,#44006c 110.7px,#44006c 121.1px,#44006c 131.5px,#3400b9 141.9px,#3400b9 152.3px,#3400b9 162.7px,#3400b9 173.1px,#3400b9 183.5px,#008cff 193.9px,#0f1efa 204.3px,#0f1efa 214.7px,#008cff 225.1px,#008cff 235.4px,#008cff 245.8px,#008cff 256.2px,#008cff 266.6px,#008cff 277.0px,#008cff 287.4px,#00e6ff 297.8px,#008cff 308.2px,#008cff 318.6px,#008cff 329.0px,#00e6ff 339.4px,#00ff96 349.8px,#00ff96 360.2px,#00ff96 370.6px,#0aff2d 380.9px,#0aff2d 391.3px,#96ff00 401.7px,#96ff00 412.1px,#ebff00 422.5px,#ebff00 432.9px,#ffe600 443.3px,#ffaa00 453.7px,#ff5a00 464.1px,#ff5a00 474.5px,#ff5a00 484.9px,#ff1400 495.3px,#ff1400 505.7px,#ff1400 516.1px,#ff1400 526.4px,#ff1400 536.8px,#ff5a00 547.2px,#ffe600 557.6px,#0aff2d 568.0px,#0aff2d 578.4px,#0aff2d 588.8px,#0aff2d 599.2px)"></i>
<i style="left:276.28px;width:11.18px;background:linear-gradient(#20002a 6.8px,#20002a 17.2px,#44006c 27.6px,#20002a 38.0px,#44006c 48.4px,#44006c 58.8px,#44006c 69.2px,#44006c 79.6px,#3400b9 89.9px,#3400b9 100.3px,#3400b9 110.7px,#3400b9 121.1px,#3400b9 131.5px,#3400b9 141.9px,#3400b9 152.3px,#3400b9 162.7px,#3400b9 173.1px,#3400b9 183.5px,#0f1efa 193.9px,#0f1efa 204.3px,#0f1efa 214.7px,#0f1efa 225.1px,#008cff 235.4px,#008cff 245.8px,#008cff 256.2px,#008cff 266.6px,#008cff 277.0px,#008cff 287.4px,#008cff 297.8px,#008cff 308.2px,#008cff 318.6px,#00e6ff 329.0px,#00e6ff 339.4px,#00ff96 349.8px,#00ff96 360.2px,#0aff2d 370.6px,#0aff2d 380.9px,#0aff2d 391.3px,#96ff00 401.7px,#96ff00 412.1px,#ebff00 422.5px,#ebff00 432.9px,#ffe600 443.3px,#ffaa00 453.7px,#ffaa00 464.1px,#ff5a00 474.5px,#ff5a00 484.9px,#ff5a00 495.3px,#ff1400 505.7px,#ff1400 516.1px,#ff1400 526.4px,#ff1400 536.8px,#ff5a00 547.2px,#ebff00 557.6px,#ebff00 568.0px,#96ff00 578.4px,#96ff00 588.8px,#96ff00 599.2px)"></i>
<i style="left:286.87px;width:11.18px;background:linear-gradient(#20002a 6.8px,#20002a 17.2px,#44006c 27.6px,#20002a 38.0px,#44006c 48.4px,#44006c 58.8px,#44006c 69.2px,#44006c 79.6px,#3400b9 89.9px,#3400b9 100.3px,#3400b9 110.7px,#3400b9 121.1px,#3400b9 131.5px,#3400b9 141.9px,#3400b9 152.3px,#3400b9 162.7px,#3400b9 173.1px,#3400b9 183.5px,#0f1efa 193.9px,#0f1efa 204.3px,#0f1efa 214.7px,#0f1efa 225.1px,#0f1efa 235.4px,#008cff 245.8px,#008cff 256.2px,#008cff 266.6px,#008cff 277.0px,#008cff 287.4px,#008cff 297.8px,#008cff 308.2px,#008cff 318.6px,#00e6ff 329.0px,#00e6ff 339.4px,#00ff96 349.8px,#0aff2d 360.2px,#0aff2d 370.6px,#0aff2d 380.9px,#0aff2d 391.3px,#96ff00 401.7px,#96ff00 412.1px,#96ff00 422.5px,#ebff00 432.9px,#ebff00 443.3px,#ffe600 453.7px,#ffe600 464.1px,#ffe600 474.5px,#ffaa00 484.9px,#ffaa00 495.3px,#ffaa00 505.7px,#ff5a00 516.1px,#ff5a00 526.4px,#ffaa00 536.8px,#ffe600 547.2px,#ffaa00 557.6px,#ff5a00 568.0px,#ff1400 578.4px,#ebff00 588.8px,#ebff00 599.2px)"></i>
<i style="left:297.45px;width:11.18px;background:linear-gradient(#20002a 6.8px,#20002a 17.2px,#20002a 27.6px,#20002a 38.0px,#44006c 48.4px,#44006c 58.8px,#44006c 69.2px,#44006c 79.6px,#3400b9 89.9px,#3400b9 100.3px,#3400b9 110.7px,#3400b9 121.1px,#3400b9 131.5px,#3400b9 141.9px,#3400b9 152.3px,#3400b9 162.7px,#3400b9 173.1px,#3400b9 183.5px,#0f1efa 193.9px,#0f1efa 204.3px,#0f1efa 214.7px,#0f1efa 225.1px,#0f1efa 235.4px,#0f1efa 245.8px,#008cff 256.2px,#008cff 266.6px,#008cff 277.0px,#008cff 287.4px,#008cff 297.8px,#00e6ff 308.2px,#00e6ff 318.6px,#00e6ff 329.0px,#00e6ff 339.4px,#00ff96 349.8px,#00ff96 360.2px,#0aff2d 370.6px,#0aff2d 380.9px,#0aff2d 391.3px,#0aff2d 401.7px,#96ff00 412.1px,#96ff00 422.5px,#96ff00 432.9px,#96ff00 443.3px,#96ff00 453.7px,#96ff00 464.1px,#ebff00 474.5px,#ebff00 484.9px,#ebff00 495.3px,#ebff00 505.7px,#ebff00 516.1px,#ffe600 526.4px,#ffe600 536.8px,#ffe600 547.2px,#eb0000 557.6px,#c80000 568.0px,#eb0000 578.4px,#ff5a00 588.8px,#ff5a00 599.2px)"></i>
<i style="left:308.03px;width:11.18px;background:linear-gradient(#20002a 6.8px,#20002a 17.2px,#20002a 27.6px,#20002a 38.0px,#44006c 48.4px,#44006c 58.8px,#44006c 69.2px,#44006c 79.6px,#44006c 89.9px,#3400b9 100.3px,#3400b9 110.7px,#3400b9 121.1px,#3400b9 131.5px,#3400b9 141.9px,#3400b9 152.3px,#3400b9 162.7px,#3400b9 173.1px,#3400b9 183.5px,#0f1efa 193.9px,#0f1efa 204.3px,#0f1efa 214.7px,#0f1efa 225.1px,#0f1efa 235.4px,#008cff 245.8px,#008cff 256.2px,#008cff 266.6px,#008cff 277.0px,#00e6ff 287.4px,#00e6ff 297.8px,#00e6ff 308.2px,#00e6ff 318.6px,#00e6ff 329.0px,#00e6ff 339.4px,#00e6ff 349.8px,#00ff96 360.2px,#0aff2d 370.6px,#0aff2d 380.9px,#0aff2d 391.3px,#0aff2d 401.7px,#96ff00 412.1px,#96ff00 422.5px,#96ff00 432.9px,#96ff00 443.3px,#ebff00 453.7px,#ebff00 464.1px,#ebff00 474.5px,#ebff00 484.9px,#ebff00 495.3px,#ffe600 505.7px,#ffaa00 516.1px,#ffaa00 526.4px,#ffaa00 536.8px,#ff1400 547.2px,#c80000 557.6px,#c80000 568.0px,#c80000 578.4px,#ff1400 588.8px,#ff1400 599.2px)"></i>
<i style="left:318.62px;width:11.18px;background:linear-gradient(#20002a 6.8px,#20002a 17.2px,#20002a 27.6px,#20002a 38.0px,#44006c 48.4px,#44006c 58.8px,#44006c 69.2px,#44006c 79.6px,#3400b9 89.9px,#3400b9 100.3px,#3400b9 110.7px,#3400b9 121.1px,#3400b9 131.5px,#3400b9 141.9px,#3400b9 152.3px,#3400b9 162.7px,#3400b9 173.1px,#3400b9 183.5px,#3400b9 193.9px,#0f1efa 204.3px,#0f1efa 214.7px,#0f1efa 225.1px,#0f1efa 235.4px,#008cff 245.8px,#008cff 256.2px,#008cff 266.6px,#008cff 277.0px,#00e6ff 287.4px,#00e6ff 297.8px,#00ff96 308.2px,#00ff96 318.6px,#00ff96 329.0px,#00e6ff 339.4px,#00e6ff 349.8px,#00ff96 360.2px,#0aff2d 370.6px,#0aff2d 380.9px,#0aff2d 391.3px,#0aff2d 401.7px,#96ff00 412.1px,#96ff00 422.5px,#96ff00 432.9px,#96ff00 443.3px,#ebff00 453.7px,#ebff00 464.1px,#ebff00 474.5px,#ffe600 484.9px,#ffe600 495.3px,#ffe600 505.7px,#ffaa00 516.1px,#ffaa00 526.4px,#ffaa00 536.8px,#ff1400 547.2px,#c80000 557.6px,#c80000 568.0px,#c80000 578.4px,#ff1400 588.8px,#ff1400 599.2px)"></i>
<i style="left:329.20px;width:11.18px;background:linear-gradient(#20002a 6.8px,#20002a 17.2px,#20002a 27.6px,#20002a 38.0px,#44006c 48.4px,#44006c 58.8px,#3400b9 69.2px,#3400b9 79.6px,#3400b9 89.9px,#3400b9 100.3px,#3400b9 110.7px,#3400b9 121.1px,#3400b9 131.5px,#3400b9 141.9px,#3400b9 152.3px,#3400b9 162.7px,#3400b9 173.1px,#3400b9 183.5px,#3400b9 193.9px,#3400b9 204.3px,#0f1efa 214.7px,#0f1efa 225.1px,#0f1efa 235.4px,#0f1efa 245.8px,#008cff 256.2px,#008cff 266.6px,#00e6ff 277.0px,#00e6ff 287.4px,#00e6ff 297.8px,#00ff96 308.2px,#00ff96 318.6px,#00ff96 329.0px,#00ff96 339.4px,#00ff96 349.8px,#00ff96 360.2px,#0aff2d 370.6px,#0aff2d 380.9px,#96ff00 391.3px,#0aff2d 401.7px,#96ff00 412.1px,#96ff00 422.5px,#96ff00 432.9px,#96ff00 443.3px,#ffe600 453.7px,#ffe600 464.1px,#ffaa00 474.5px,#ffaa00 484.9px,#ffaa00 495.3px,#ffe600 505.7px,#ffe600 516.1px,#ffe600 526.4px,#ffe600 536.8px,#ff1400 547.2px,#eb0000 557.6px,#c80000 568.0px,#c80000 578.4px,#ff1400 588.8px,#ff1400 599.2px)"></i>
<i style="left:339.78px;width:11.18px;background:linear-gradient(#20002a 6.8px,#20002a 17.2px,#20002a 27.6px,#20002a 38.0px,#44006c 48.4px,#44006c 58.8px,#3400b9 69.2px,#3400b9 79.6px,#3400b9 89.9px,#3400b9 100.3px,#3400b9 110.7px,#3400b9 121.1px,#3400b9 131.5px,#3400b9 141.9px,#3400b9 152.3px,#3400b9 162.7px,#3400b9 173.1px,#3400b9 183.5px,#3400b9 193.9px,#0f1efa 204.3px,#0f1efa 214.7px,#0f1efa 225.1px,#0f1efa 235.4px,#008cff 245.8px,#008cff 256.2px,#008cff 266.6px,#008cff 277.0px,#00e6ff 287.4px,#00ff96 297.8px,#00ff96 308.2px,#00ff96 318.6px,#0aff2d 329.0px,#0aff2d 339.4px,#0aff2d 349.8px,#0aff2d 360.2px,#96ff00 370.6px,#96ff00 380.9px,#96ff00 391.3px,#96ff00 401.7px,#96ff00 412.1px,#ebff00 422.5px,#ebff00 432.9px,#ebff00 443.3px,#ffe600 453.7px,#ffaa00 464.1px,#ffaa00 474.5px,#ffaa00 484.9px,#ffaa00 495.3px,#ffaa00 505.7px,#ffe600 516.1px,#ffe600 526.4px,#ffe600 536.8px,#ffe600 547.2px,#ffaa00 557.6px,#c80000 568.0px,#c80000 578.4px,#ff5a00 588.8px,#ff5a00 599.2px)"></i>
<i style="left:350.37px;width:11.18px;background:linear-gradient(#20002a 6.8px,#20002a 17.2px,#20002a 27.6px,#20002a 38.0px,#44006c 48.4px,#44006c 58.8px,#44006c 69.2px,#3400b9 79.6px,#3400b9 89.9px,#3400b9 100.3px,#3400b9 110.7px,#3400b9 121.1px,#3400b9 131.5px,#3400b9 141.9px,#3400b9 152.3px,#3400b9 162.7px,#3400b9 173.1px,#3400b9 183.5px,#3400b9 193.9px,#0f1efa 204.3px,#0f1efa 214.7px,#0f1efa 225.1px,#0f1efa 235.4px,#008cff 245.8px,#008cff 256.2px,#008cff 266.6px,#008cff 277.0px,#00e6ff 287.4px,#00ff96 297.8px,#00ff96 308.2px,#00ff96 318.6px,#00ff96 329.0px,#00ff96 339.4px,#00ff96 349.8px,#0aff2d 360.2px,#0aff2d 370.6px,#96ff00 380.9px,#96ff00 391.3px,#96ff00 401.7px,#96ff00 412.1px,#ebff00 422.5px,#ebff00 432.9px,#ffe600 443.3px,#ffe600 453.7px,#ffe600 464.1px,#ffaa00 474.5px,#ffaa00 484.9px,#ff5a00 495.3px,#ff5a00 505.7px,#ff5a00 516.1px,#ff1400 526.4px,#ff1400 536.8px,#ffe600 547.2px,#ebff00 557.6px,#ff1400 568.0px,#c80000 578.4px,#ffaa00 588.8px,#ffaa00 599.2px)"></i>
<i style="left:360.95px;width:11.18px;background:linear-gradient(#20002a 6.8px,#20002a 17.2px,#20002a 27.6px,#44006c 38.0px,#44006c 48.4px,#44006c 58.8px,#44006c 69.2px,#3400b9 79.6px,#3400b9 89.9px,#3400b9 100.3px,#3400b9 110.7px,#3400b9 121.1px,#3400b9 131.5px,#3400b9 141.9px,#3400b9 152.3px,#3400b9 162.7px,#3400b9 173.1px,#3400b9 183.5px,#3400b9 193.9px,#0f1efa 204.3px,#0f1efa 214.7px,#0f1efa 225.1px,#0f1efa 235.4px,#008cff 245.8px,#008cff 256.2px,#008cff 266.6px,#008cff 277.0px,#00e6ff 287.4px,#00ff96 297.8px,#00ff96 308.2px,#00ff96 318.6px,#00e6ff 329.0px,#00e6ff 339.4px,#00e6ff 349.8px,#00ff96 360.2px,#96ff00 370.6px,#96ff00 380.9px,#96ff00 391.3px,#96ff00 401.7px,#96ff00 412.1px,#96ff00 422.5px,#ebff00 432.9px,#ebff00 443.3px,#ffe600 453.7px,#ffe600 464.1px,#ffaa00 474.5px,#ffaa00 484.9px,#ffaa00 495.3px,#ff5a00 505.7px,#ff1400 516.1px,#ff1400 526.4px,#ff1400 536.8px,#eb0000 547.2px,#eb0000 557.6px,#ebff00 568.0px,#eb0000 578.4px,#ebff00 588.8px,#ebff00 599.2px)"></i>
<i style="left:371.53px;width:11.18px;background:linear-gradient(#44006c 6.8px,#44006c 17.2px,#44006c 27.6px,#44006c 38.0px,#44006c 48.4px,#44006c 58.8px,#3400b9 69.2px,#3400b9 79.6px,#3400b9 89.9px,#3400b9 100.3px,#3400b9 110.7px,#3400b9 121.1px,#3400b9 131.5px,#0f1efa 141.9px,#3400b9 152.3px,#3400b9 162.7px,#3400b9 173.1px,#3400b9 183.5px,#3400b9 193.9px,#0f1efa 204.3px,#0f1efa 214.7px,#0f1efa 225.1px,#008cff 235.4px,#008cff 245.8px,#00e6ff 256.2px,#00e6ff 266.6px,#00e6ff 277.0px,#00e6ff 287.4px,#00ff96 297.8px,#00ff96 308.2px,#00e6ff 318.6px,#00e6ff 329.0px,#00e6ff 339.4px,#00ff96 349.8px,#0aff2d 360.2px,#96ff00 370.6px,#96ff00 380.9px,#0aff2d 391.3px,#0aff2d 401.7px,#96ff00 412.1px,#96ff00 422.5px,#96ff00 432.9px,#ebff00 443.3px,#ffe600 453.7px,#ffe600 464.1px,#ffe600 474.5px,#ffaa00 484.9px,#ffaa00 495.3px,#ff5a00 505.7px,#ff1400 516.1px,#ff1400 526.4px,#eb0000 536.8px,#c80000 547.2px,#c80000 557.6px,#ebff00 568.0px,#ebff00 578.4px,#ffe600 588.8px,#ffe600 599.2px)"></i>
<i style="left:382.12px;width:11.18px;background:linear-gradient(#44006c 6.8px,#44006c 17.2px,#3400b9 27.6px,#44006c 38.0px,#3400b9 48.4px,#3400b9 58.8px,#3400b9 69.2px,#3400b9 79.6px,#3400b9 89.9px,#3400b9 100.3px,#3400b9 110.7px,#3400b9 121.1px,#3400b9 131.5px,#3400b9 141.9px,#3400b9 152.3px,#3400b9 162.7px,#3400b9 173.1px,#3400b9 183.5px,#3400b9 193.9px,#0f1efa 204.3px,#0f1efa 214.7px,#0f1efa 225.1px,#00e6ff 235.4px,#00e6ff 245.8px,#00e6ff 256.2px,#00e6ff 266.6px,#00e6ff 277.0px,#00ff96 287.4px,#00ff96 297.8px,#00e6ff 308.2px,#00e6ff 318.6px,#00ff96 329.0px,#00ff96 339.4px,#0aff2d 349.8px,#0aff2d 360.2px,#0aff2d 370.6px,#0aff2d 380.9px,#0aff2d 391.3px,#0aff2d 401.7px,#0aff2d 412.1px,#96ff00 422.5px,#96ff00 432.9px,#96ff00 443.3px,#ffe600 453.7px,#ffe600 464.1px,#ffe600 474.5px,#ffaa00 484.9px,#ffaa00 495.3px,#ff5a00 505.7px,#ff5a00 516.1px,#ff5a00 526.4px,#ff1400 536.8px,#c80000 547.2px,#c80000 557.6px,#c80000 568.0px,#96ff00 578.4px,#96ff00 588.8px,#96ff00 599.2px)"></i>
<i style="left:392.70px;width:11.18px;background:linear-gradient(#20002a 6.8px,#20002a 17.2px,#44006c 27.6px,#44006c 38.0px,#44006c 48.4px,#3400b9 58.8px,#3400b9 69.2px,#3400b9 79.6px,#3400b9 89.9px,#44006c 100.3px,#44006c 110.7px,#3400b9 121.1px,#3400b9 131.5px,#3400b9 141.9px,#3400b9 152.3px,#3400b9 162.7px,#3400b9 173.1px,#3400b9 183.5px,#0f1efa 193.9px,#0f1efa 204.3px,#0f1efa 214.7px,#008cff 225.1px,#008cff 235.4px,#00e6ff 245.8px,#00e6ff 256.2px,#00e6ff 266.6px,#00e6ff 277.0px,#00e6ff 287.4px,#00e6ff 297.8px,#00e6ff 308.2px,#00e6ff 318.6px,#00ff96 329.0px,#00ff96 339.4px,#0aff2d 349.8px,#0aff2d 360.2px,#0aff2d 370.6px,#96ff00 380.9px,#0aff2d 391.3px,#0aff2d 401.7px,#96ff00 412.1px,#96ff00 422.5px,#ebff00 432.9px,#ebff00 443.3px,#ffe600 453.7px,#ffe600 464.1px,#ffaa00 474.5px,#ffaa00 484.9px,#ffe600 495.3px,#ffe600 505.7px,#ffe600 516.1px,#ffaa00 526.4px,#ff5a00 536.8px,#eb0000 547.2px,#c80000 557.6px,#eb0000 568.0px,#96ff00 578.4px,#00ff96 588.8px,#00ff96 599.2px)"></i>
<i style="left:403.28px;width:11.18px;background:linear-gradient(#20002a 6.8px,#20002a 17.2px,#44006c 27.6px,#44006c 38.0px,#44006c 48.4px,#3400b9 58.8px,#3400b9 69.2px,#3400b9 79.6px,#3400b9 89.9px,#3400b9 100.3px,#3400b9 110.7px,#3400b9 121.1px,#3400b9 131.5px,#3400b9 141.9px,#0f1efa 152.3px,#0f1efa 162.7px,#0f1efa 173.1px,#0f1efa 183.5px,#0f1efa 193.9px,#008cff 204.3px,#008cff 214.7px,#008cff 225.1px,#008cff 235.4px,#00e6ff 245.8px,#00e6ff 256.2px,#00e6ff 266.6px,#00e6ff 277.0px,#00e6ff 287.4px,#00e6ff 297.8px,#00e6ff 308.2px,#00ff96 318.6px,#00ff96 329.0px,#00ff96 339.4px,#0aff2d 349.8px,#0aff2d 360.2px,#0aff2d 370.6px,#0aff2d 380.9px,#0aff2d 391.3px,#0aff2d 401.7px,#0aff2d 412.1px,#96ff00 422.5px,#96ff00 432.9px,#ebff00 443.3px,#ffe600 453.7px,#ffaa00 464.1px,#ffaa00 474.5px,#ff5a00 484.9px,#ff5a00 495.3px,#ff1400 505.7px,#ff5a00 516.1px,#ffe600 526.4px,#ffe600 536.8px,#ffe600 547.2px,#ffe600 557.6px,#ffe600 568.0px,#ff5a00 578.4px,#0aff2d 588.8px,#0aff2d 599.2px)"></i>
<i style="left:413.87px;width:11.18px;background:linear-gradient(#20002a 6.8px,#20002a 17.2px,#20002a 27.6px,#20002a 38.0px,#44006c 48.4px,#3400b9 58.8px,#0f1efa 69.2px,#0f1efa 79.6px,#3400b9 89.9px,#3400b9 100.3px,#3400b9 110.7px,#00e6ff 121.1px,#00ff96 131.5px,#00e6ff 141.9px,#008cff 152.3px,#0f1efa 162.7px,#0f1efa 173.1px,#008cff 183.5px,#008cff 193.9px,#008cff 204.3px,#008cff 214.7px,#008cff 225.1px,#00e6ff 235.4px,#00e6ff 245.8px,#00e6ff 256.2px,#00ff96 266.6px,#00ff96 277.0px,#00ff96 287.4px,#00ff96 297.8px,#00ff96 308.2px,#00ff96 318.6px,#00ff96 329.0px,#00ff96 339.4px,#00ff96 349.8px,#00ff96 360.2px,#0aff2d 370.6px,#0aff2d 380.9px,#0aff2d 391.3px,#0aff2d 401.7px,#96ff00 412.1px,#96ff00 422.5px,#ebff00 432.9px,#ebff00 443.3px,#ffe600 453.7px,#ffaa00 464.1px,#ffaa00 474.5px,#ff5a00 484.9px,#ff5a00 495.3px,#ff1400 505.7px,#ff1400 516.1px,#ff1400 526.4px,#ff1400 536.8px,#ebff00 547.2px,#ebff00 557.6px,#ebff00 568.0px,#ff1400 578.4px,#00ff96 588.8px,#00ff96 599.2px)"></i>
<i style="left:424.45px;width:11.18px;background:linear-gradient(#20002a 6.8px,#20002a 17.2px,#20002a 27.6px,#44006c 38.0px,#44006c 48.4px,#3400b9 58.8px,#0f1efa 69.2px,#0f1efa 79.6px,#0f1efa 89.9px,#0f1efa 100.3px,#3400b9 110.7px,#0f1efa 121.1px,#008cff 131.5px,#008cff 141.9px,#008cff 152.3px,#0f1efa 162.7px,#0f1efa 173.1px,#008cff 183.5px,#008cff 193.9px,#008cff 204.3px,#008cff 214.7px,#008cff 225.1px,#00e6ff 235.4px,#00e6ff 245.8px,#00e6ff 256.2px,#00ff96 266.6px,#00ff96 277.0px,#00ff96 287.4px,#0aff2d 297.8px,#0aff2d 308.2px,#0aff2d 318.6px,#0aff2d 329.0px,#00ff96 339.4px,#00ff96 349.8px,#00ff96 360.2px,#00ff96 370.6px,#00ff96 380.9px,#0aff2d 391.3px,#0aff2d 401.7px,#96ff00 412.1px,#96ff00 422.5px,#ebff00 432.9px,#ffe600 443.3px,#ffe600 453.7px,#ffaa00 464.1px,#ffaa00 474.5px,#ff5a00 484.9px,#ff5a00 495.3px,#ff5a00 505.7px,#ff1400 516.1px,#ff1400 526.4px,#ff1400 536.8px,#ff1400 547.2px,#96ff00 557.6px,#0aff2d 568.0px,#ff1400 578.4px,#00ff96 588.8px,#00ff96 599.2px)"></i>
<i style="left:435.03px;width:11.18px;background:linear-gradient(#20002a 6.8px,#20002a 17.2px,#20002a 27.6px,#20002a 38.0px,#44006c 48.4px,#0f1efa 58.8px,#0f1efa 69.2px,#0f1efa 79.6px,#0f1efa 89.9px,#0f1efa 100.3px,#0f1efa 110.7px,#0f1efa 121.1px,#008cff 131.5px,#008cff 141.9px,#0f1efa 152.3px,#0f1efa 162.7px,#0f1efa 173.1px,#008cff 183.5px,#008cff 193.9px,#008cff 204.3px,#008cff 214.7px,#008cff 225.1px,#00e6ff 235.4px,#00e6ff 245.8px,#00e6ff 256.2px,#00e6ff 266.6px,#00e6ff 277.0px,#00ff96 287.4px,#0aff2d 297.8px,#0aff2d 308.2px,#0aff2d 318.6px,#0aff2d 329.0px,#0aff2d 339.4px,#96ff00 349.8px,#0aff2d 360.2px,#0aff2d 370.6px,#96ff00 380.9px,#96ff00 391.3px,#96ff00 401.7px,#96ff00 412.1px,#ebff00 422.5px,#ebff00 432.9px,#ffe600 443.3px,#ffe600 453.7px,#ffaa00 464.1px,#ffaa00 474.5px,#ff5a00 484.9px,#ff1400 495.3px,#ff1400 505.7px,#ff1400 516.1px,#ff1400 526.4px,#eb0000 536.8px,#eb0000 547.2px,#ff1400 557.6px,#0aff2d 568.0px,#0aff2d 578.4px,#00e6ff 588.8px,#00e6ff 599.2px)"></i>
<i style="left:445.62px;width:11.18px;background:linear-gradient(#20002a 6.8px,#20002a 17.2px,#44006c 27.6px,#44006c 38.0px,#44006c 48.4px,#0f1efa 58.8px,#0f1efa 69.2px,#0f1efa 79.6px,#0f1efa 89.9px,#0f1efa 100.3px,#0f1efa 110.7px,#0f1efa 121.1px,#0f1efa 131.5px,#0f1efa 141.9px,#0f1efa 152.3px,#0f1efa 162.7px,#008cff 173.1px,#008cff 183.5px,#008cff 193.9px,#008cff 204.3px,#008cff 214.7px,#008cff 225.1px,#008cff 235.4px,#00e6ff 245.8px,#00e6ff 256.2px,#00e6ff 266.6px,#00e6ff 277.0px,#00e6ff 287.4px,#00ff96 297.8px,#0aff2d 308.2px,#0aff2d 318.6px,#0aff2d 329.0px,#0aff2d 339.4px,#96ff00 349.8px,#96ff00 360.2px,#96ff00 370.6px,#ebff00 380.9px,#ebff00 391.3px,#ebff00 401.7px,#ebff00 412.1px,#ebff00 422.5px,#ffe600 432.9px,#ffe600 443.3px,#ffaa00 453.7px,#ffaa00 464.1px,#ff5a00 474.5px,#ff1400 484.9px,#ff1400 495.3px,#ff1400 505.7px,#ff1400 516.1px,#ff1400 526.4px,#eb0000 536.8px,#eb0000 547.2px,#ff1400 557.6px,#ff1400 568.0px,#0aff2d 578.4px,#00e6ff 588.8px,#00e6ff 599.2px)"></i>
<i style="left:456.20px;width:11.18px;background:linear-gradient(#20002a 6.8px,#20002a 17.2px,#44006c 27.6px,#44006c 38.0px,#3400b9 48.4px,#0f1efa 58.8px,#0f1efa 69.2px,#0f1efa 79.6px,#008cff 89.9px,#0f1efa 100.3px,#0f1efa 110.7px,#008cff 121.1px,#008cff 131.5px,#008cff 141.9px,#008cff 152.3px,#0f1efa 162.7px,#0f1efa 173.1px,#008cff 183.5px,#008cff 193.9px,#008cff 204.3px,#008cff 214.7px,#008cff 225.1px,#008cff 235.4px,#008cff 245.8px,#00e6ff 256.2px,#00e6ff 266.6px,#00e6ff 277.0px,#00e6ff 287.4px,#00e6ff 297.8px,#0aff2d 308.2px,#0aff2d 318.6px,#0aff2d 329.0px,#0aff2d 339.4px,#0aff2d 349.8px,#0aff2d 360.2px,#96ff00 370.6px,#96ff00 380.9px,#96ff00 391.3px,#ebff00 401.7px,#ebff00 412.1px,#ebff00 422.5px,#ffe600 432.9px,#ffe600 443.3px,#ffe600 453.7px,#ffaa00 464.1px,#ffaa00 474.5px,#ff5a00 484.9px,#ff1400 495.3px,#ff1400 505.7px,#ff1400 516.1px,#ff1400 526.4px,#eb0000 536.8px,#eb0000 547.2px,#eb0000 557.6px,#eb0000 568.0px,#ff5a00 578.4px,#00ff96 588.8px,#00ff96 599.2px)"></i>
<i style="left:466.78px;width:11.18px;background:linear-gradient(#20002a 6.8px,#20002a 17.2px,#44006c 27.6px,#44006c 38.0px,#3400b9 48.4px,#3400b9 58.8px,#0f1efa 69.2px,#0f1efa 79.6px,#008cff 89.9px,#008cff 100.3px,#008cff 110.7px,#00e6ff 121.1px,#00e6ff 131.5px,#00e6ff 141.9px,#008cff 152.3px,#0f1efa 162.7px,#0f1efa 173.1px,#008cff 183.5px,#008cff 193.9px,#008cff 204.3px,#008cff 214.7px,#008cff 225.1px,#008cff 235.4px,#008cff 245.8px,#008cff 256.2px,#00e6ff 266.6px,#00e6ff 277.0px,#00e6ff 287.4px,#00e6ff 297.8px,#00ff96 308.2px,#0aff2d 318.6px,#0aff2d 329.0px,#0aff2d 339.4px,#00ff96 349.8px,#00ff96 360.2px,#0aff2d 370.6px,#0aff2d 380.9px,#0aff2d 391.3px,#0aff2d 401.7px,#96ff00 412.1px,#96ff00 422.5px,#ebff00 432.9px,#ebff00 443.3px,#ffe600 453.7px,#ffe600 464.1px,#ffaa00 474.5px,#ffaa00 484.9px,#ffaa00 495.3px,#ffaa00 505.7px,#ffaa00 516.1px,#ff5a00 526.4px,#ff1400 536.8px,#ff1400 547.2px,#eb0000 557.6px,#c80000 568.0px,#ff1400 578.4px,#0aff2d 588.8px,#0aff2d 599.2px)"></i>
<i style="left:477.37px;width:11.18px;background:linear-gradient(#20002a 6.8px,#20002a 17.2px,#44006c 27.6px,#44006c 38.0px,#3400b9 48.4px,#0f1efa 58.8px,#008cff 69.2px,#008cff 79.6px,#008cff 89.9px,#008cff 100.3px,#008cff 110.7px,#0f1efa 121.1px,#0f1efa 131.5px,#0f1efa 141.9px,#0f1efa 152.3px,#0f1efa 162.7px,#0f1efa 173.1px,#0f1efa 183.5px,#008cff 193.9px,#008cff 204.3px,#008cff 214.7px,#008cff 225.1px,#008cff 235.4px,#008cff 245.8px,#008cff 256.2px,#008cff 266.6px,#00e6ff 277.0px,#00e6ff 287.4px,#00ff96 297.8px,#0aff2d 308.2px,#0aff2d 318.6px,#0aff2d 329.0px,#00ff96 339.4px,#00ff96 349.8px,#00ff96 360.2px,#00ff96 370.6px,#0aff2d 380.9px,#0aff2d 391.3px,#0aff2d 401.7px,#96ff00 412.1px,#96ff00 422.5px,#96ff00 432.9px,#ebff00 443.3px,#ffe600 453.7px,#ffe600 464.1px,#ffe600 474.5px,#ebff00 484.9px,#ebff00 495.3px,#ebff00 505.7px,#ebff00 516.1px,#ebff00 526.4px,#ffaa00 536.8px,#ff5a00 547.2px,#ff1400 557.6px,#ff1400 568.0px,#ff1400 578.4px,#0aff2d 588.8px,#0aff2d 599.2px)"></i>
<i style="left:487.95px;width:11.18px;background:linear-gradient(#20002a 6.8px,#20002a 17.2px,#44006c 27.6px,#44006c 38.0px,#3400b9 48.4px,#0f1efa 58.8px,#0f1efa 69.2px,#00e6ff 79.6px,#008cff 89.9px,#0f1efa 100.3px,#0f1efa 110.7px,#0f1efa 121.1px,#0f1efa 131.5px,#0f1efa 141.9px,#0f1efa 152.3px,#0f1efa 162.7px,#0f1efa 173.1px,#0f1efa 183.5px,#0f1efa 193.9px,#008cff 204.3px,#008cff 214.7px,#008cff 225.1px,#008cff 235.4px,#008cff 245.8px,#008cff 256.2px,#008cff 266.6px,#008cff 277.0px,#00e6ff 287.4px,#00ff96 297.8px,#0aff2d 308.2px,#0aff2d 318.6px,#0aff2d 329.0px,#0aff2d 339.4px,#0aff2d 349.8px,#0aff2d 360.2px,#0aff2d 370.6px,#0aff2d 380.9px,#0aff2d 391.3px,#96ff00 401.7px,#96ff00 412.1px,#96ff00 422.5px,#96ff00 432.9px,#96ff00 443.3px,#ebff00 453.7px,#ffe600 464.1px,#ffe600 474.5px,#ffaa00 484.9px,#ffaa00 495.3px,#ffaa00 505.7px,#ffaa00 516.1px,#ffe600 526.4px,#ffe600 536.8px,#ffaa00 547.2px,#ff1400 557.6px,#ff1400 568.0px,#ff5a00 578.4px,#00ff96 588.8px,#00ff96 599.2px)"></i>
<i style="left:498.53px;width:11.18px;background:linear-gradient(#20002a 6.8px,#20002a 17.2px,#44006c 27.6px,#3400b9 38.0px,#3400b9 48.4px,#0f1efa 58.8px,#0f1efa 69.2px,#008cff 79.6px,#0f1efa 89.9px,#0f1efa 100.3px,#0f1efa 110.7px,#008cff 121.1px,#008cff 131.5px,#0f1efa 141.9px,#0f1efa 152.3px,#0f1efa 162.7px,#0f1efa 173.1px,#0f1efa 183.5px,#0f1efa 193.9px,#0f1efa 204.3px,#0f1efa 214.7px,#008cff 225.1px,#008cff 235.4px,#008cff 245.8px,#008cff 256.2px,#00e6ff 266.6px,#00e6ff 277.0px,#00ff96 287.4px,#00ff96 297.8px,#0aff2d 308.2px,#0aff2d 318.6px,#0aff2d 329.0px,#00ff96 339.4px,#0aff2d 349.8px,#0aff2d 360.2px,#0aff2d 370.6px,#96ff00 380.9px,#96ff00 391.3px,#0aff2d 401.7px,#0aff2d 412.1px,#0aff2d 422.5px,#96ff00 432.9px,#96ff00 443.3px,#ebff00 453.7px,#ffe600 464.1px,#ffaa00 474.5px,#ffaa00 484.9px,#ffaa00 495.3px,#ffaa00 505.7px,#ffe600 516.1px,#ffe600 526.4px,#ffaa00 536.8px,#ff5a00 547.2px,#ffaa00 557.6px,#ff5a00 568.0px,#ebff00 578.4px,#96ff00 588.8px,#96ff00 599.2px)"></i>
<i style="left:509.12px;width:11.18px;background:linear-gradient(#20002a 6.8px,#20002a 17.2px,#20002a 27.6px,#44006c 38.0px,#3400b9 48.4px,#3400b9 58.8px,#0f1efa 69.2px,#0f1efa 79.6px,#0f1efa 89.9px,#0f1efa 100.3px,#0f1efa 110.7px,#0f1efa 121.1px,#0f1efa 131.5px,#0f1efa 141.9px,#0f1efa 152.3px,#0f1efa 162.7px,#0f1efa 173.1px,#0f1efa 183.5px,#0f1efa 193.9px,#0f1efa 204.3px,#0f1efa 214.7px,#0f1efa 225.1px,#008cff 235.4px,#008cff 245.8px,#008cff 256.2px,#00e6ff 266.6px,#00e6ff 277.0px,#00e6ff 287.4px,#00ff96 297.8px,#0aff2d 308.2px,#96ff00 318.6px,#0aff2d 329.0px,#00ff96 339.4px,#00e6ff 349.8px,#00e6ff 360.2px,#00ff96 370.6px,#00ff96 380.9px,#0aff2d 391.3px,#0aff2d 401.7px,#0aff2d 412.1px,#0aff2d 422.5px,#96ff00 432.9px,#96ff00 443.3px,#ebff00 453.7px,#ffe600 464.1px,#ffaa00 474.5px,#ffaa00 484.9px,#ffaa00 495.3px,#ffaa00 505.7px,#ffaa00 516.1px,#ffaa00 526.4px,#ff5a00 536.8px,#ff1400 547.2px,#ff1400 557.6px,#ff1400 568.0px,#ffaa00 578.4px,#96ff00 588.8px,#96ff00 599.2px)"></i>
<i style="left:519.70px;width:11.18px;background:linear-gradient(#20002a 6.8px,#20002a 17.2px,#44006c 27.6px,#44006c 38.0px,#3400b9 48.4px,#3400b9 58.8px,#0f1efa 69.2px,#0f1efa 79.6px,#0f1efa 89.9px,#0f1efa 100.3px,#0f1efa 110.7px,#0f1efa 121.1px,#0f1efa 131.5px,#0f1efa 141.9px,#0f1efa 152.3px,#0f1efa 162.7px,#0f1efa 173.1px,#0f1efa 183.5px,#0f1efa 193.9px,#0f1efa 204.3px,#008cff 214.7px,#008cff 225.1px,#008cff 235.4px,#008cff 245.8px,#00e6ff 256.2px,#00e6ff 266.6px,#00ff96 277.0px,#00ff96 287.4px,#00ff96 297.8px,#0aff2d 308.2px,#96ff00 318.6px,#0aff2d 329.0px,#00ff96 339.4px,#00ff96 349.8px,#00ff96 360.2px,#00ff96 370.6px,#00ff96 380.9px,#0aff2d 391.3px,#0aff2d 401.7px,#0aff2d 412.1px,#0aff2d 422.5px,#96ff00 432.9px,#96ff00 443.3px,#ebff00 453.7px,#ebff00 464.1px,#ffe600 474.5px,#ffe600 484.9px,#ffe600 495.3px,#ffe600 505.7px,#ffaa00 516.1px,#ffaa00 526.4px,#ff5a00 536.8px,#ff1400 547.2px,#ff1400 557.6px,#ff1400 568.0px,#ff5a00 578.4px,#ffe600 588.8px,#ffe600 599.2px)"></i>
<i style="left:530.28px;width:11.18px;background:linear-gradient(#20002a 6.8px,#20002a 17.2px,#44006c 27.6px,#44006c 38.0px,#3400b9 48.4px,#3400b9 58.8px,#0f1efa 69.2px,#0f1efa 79.6px,#0f1efa 89.9px,#0f1efa 100.3px,#0f1efa 110.7px,#008cff 121.1px,#0f1efa 131.5px,#008cff 141.9px,#0f1efa 152.3px,#0f1efa 162.7px,#0f1efa 173.1px,#0f1efa 183.5px,#0f1efa 193.9px,#008cff 204.3px,#008cff 214.7px,#008cff 225.1px,#008cff 235.4px,#00e6ff 245.8px,#00e6ff 256.2px,#00e6ff 266.6px,#00ff96 277.0px,#00ff96 287.4px,#00ff96 297.8px,#0aff2d 308.2px,#0aff2d 318.6px,#00ff96 329.0px,#00ff96 339.4px,#00ff96 349.8px,#00ff96 360.2px,#00ff96 370.6px,#00ff96 380.9px,#00ff96 391.3px,#00ff96 401.7px,#0aff2d 412.1px,#0aff2d 422.5px,#0aff2d 432.9px,#0aff2d 443.3px,#96ff00 453.7px,#ebff00 464.1px,#ebff00 474.5px,#ffe600 484.9px,#ffe600 495.3px,#ffe600 505.7px,#ffaa00 516.1px,#ffaa00 526.4px,#ffaa00 536.8px,#ff1400 547.2px,#eb0000 557.6px,#ff5a00 568.0px,#ffaa00 578.4px,#ebff00 588.8px,#ebff00 599.2px)"></i>
<i style="left:540.87px;width:11.18px;background:linear-gradient(#20002a 6.8px,#20002a 17.2px,#44006c 27.6px,#44006c 38.0px,#44006c 48.4px,#3400b9 58.8px,#0f1efa 69.2px,#0f1efa 79.6px,#0f1efa 89.9px,#0f1efa 100.3px,#0f1efa 110.7px,#0f1efa 121.1px,#0f1efa 131.5px,#0f1efa 141.9px,#008cff 152.3px,#0f1efa 162.7px,#0f1efa 173.1px,#008cff 183.5px,#008cff 193.9px,#008cff 204.3px,#008cff 214.7px,#008cff 225.1px,#008cff 235.4px,#008cff 245.8px,#00e6ff 256.2px,#00e6ff 266.6px,#00e6ff 277.0px,#00e6ff 287.4px,#00ff96 297.8px,#00ff96 308.2px,#0aff2d 318.6px,#0aff2d 329.0px,#0aff2d 339.4px,#0aff2d 349.8px,#0aff2d 360.2px,#0aff2d 370.6px,#0aff2d 380.9px,#0aff2d 391.3px,#0aff2d 401.7px,#96ff00 412.1px,#0aff2d 422.5px,#0aff2d 432.9px,#96ff00 443.3px,#96ff00 453.7px,#96ff00 464.1px,#ebff00 474.5px,#ffe600 484.9px,#ffaa00 495.3px,#ffaa00 505.7px,#ff5a00 516.1px,#ff1400 526.4px,#ff5a00 536.8px,#ffe600 547.2px,#eb0000 557.6px,#ff1400 568.0px,#ffaa00 578.4px,#96ff00 588.8px,#96ff00 599.2px)"></i>
<i style="left:551.45px;width:11.18px;background:linear-gradient(#20002a 6.8px,#20002a 17.2px,#44006c 27.6px,#44006c 38.0px,#3400b9 48.4px,#3400b9 58.8px,#0f1efa 69.2px,#0f1efa 79.6px,#0f1efa 89.9px,#0f1efa 100.3px,#0f1efa 110.7px,#0f1efa 121.1px,#0f1efa 131.5px,#008cff 141.9px,#008cff 152.3px,#008cff 162.7px,#008cff 173.1px,#008cff 183.5px,#008cff 193.9px,#008cff 204.3px,#008cff 214.7px,#008cff 225.1px,#00e6ff 235.4px,#00e6ff 245.8px,#00e6ff 256.2px,#00e6ff 266.6px,#00e6ff 277.0px,#00e6ff 287.4px,#00ff96 297.8px,#0aff2d 308.2px,#00ff96 318.6px,#00ff96 329.0px,#00ff96 339.4px,#00ff96 349.8px,#0aff2d 360.2px,#0aff2d 370.6px,#0aff2d 380.9px,#96ff00 391.3px,#96ff00 401.7px,#96ff00 412.1px,#96ff00 422.5px,#96ff00 432.9px,#96ff00 443.3px,#96ff00 453.7px,#96ff00 464.1px,#ebff00 474.5px,#ffe600 484.9px,#ffe600 495.3px,#ffaa00 505.7px,#ffaa00 516.1px,#ff1400 526.4px,#ff1400 536.8px,#ff1400 547.2px,#ebff00 557.6px,#eb0000 568.0px,#ff1400 578.4px,#ebff00 588.8px,#ebff00 599.2px)"></i>
<i style="left:562.03px;width:11.18px;background:linear-gradient(#20002a 6.8px,#20002a 17.2px,#44006c 27.6px,#44006c 38.0px,#44006c 48.4px,#3400b9 58.8px,#3400b9 69.2px,#3400b9 79.6px,#3400b9 89.9px,#0f1efa 100.3px,#0f1efa 110.7px,#0f1efa 121.1px,#0f1efa 131.5px,#0f1efa 141.9px,#0f1efa 152.3px,#0f1efa 162.7px,#0f1efa 173.1px,#008cff 183.5px,#008cff 193.9px,#00e6ff 204.3px,#00e6ff 214.7px,#00e6ff 225.1px,#00e6ff 235.4px,#00e6ff 245.8px,#00ff96 256.2px,#00ff96 266.6px,#00ff96 277.0px,#00ff96 287.4px,#0aff2d 297.8px,#00ff96 308.2px,#00ff96 318.6px,#00ff96 329.0px,#00ff96 339.4px,#00ff96 349.8px,#00ff96 360.2px,#00ff96 370.6px,#00ff96 380.9px,#00ff96 391.3px,#00ff96 401.7px,#0aff2d 412.1px,#0aff2d 422.5px,#0aff2d 432.9px,#0aff2d 443.3px,#0aff2d 453.7px,#96ff00 464.1px,#ebff00 474.5px,#ebff00 484.9px,#ffe600 495.3px,#ffaa00 505.7px,#ffaa00 516.1px,#ff5a00 526.4px,#ff1400 536.8px,#ff1400 547.2px,#ff5a00 557.6px,#96ff00 568.0px,#ff5a00 578.4px,#96ff00 588.8px,#96ff00 599.2px)"></i>
<i style="left:572.62px;width:11.18px;background:linear-gradient(#20002a 6.8px,#20002a 17.2px,#44006c 27.6px,#44006c 38.0px,#44006c 48.4px,#3400b9 58.8px,#3400b9 69.2px,#3400b9 79.6px,#3400b9 89.9px,#3400b9 100.3px,#3400b9 110.7px,#3400b9 121.1px,#3400b9 131.5px,#3400b9 141.9px,#3400b9 152.3px,#008cff 162.7px,#008cff 173.1px,#008cff 183.5px,#008cff 193.9px,#00e6ff 204.3px,#00e6ff 214.7px,#00e6ff 225.1px,#00e6ff 235.4px,#00e6ff 245.8px,#00e6ff 256.2px,#00e6ff 266.6px,#00e6ff 277.0px,#00ff96 287.4px,#00ff96 297.8px,#0aff2d 308.2px,#0aff2d 318.6px,#0aff2d 329.0px,#0aff2d 339.4px,#0aff2d 349.8px,#0aff2d 360.2px,#0aff2d 370.6px,#00ff96 380.9px,#00ff96 391.3px,#00ff96 401.7px,#00ff96 412.1px,#00ff96 422.5px,#00ff96 432.9px,#00ff96 443.3px,#00ff96 453.7px,#0aff2d 464.1px,#96ff00 474.5px,#96ff00 484.9px,#96ff00 495.3px,#ebff00 505.7px,#ebff00 516.1px,#ffe600 526.4px,#ffaa00 536.8px,#ff1400 547.2px,#ff1400 557.6px,#ffe600 568.0px,#ffaa00 578.4px,#0aff2d 588.8px,#0aff2d 599.2px)"></i>
<i style="left:583.20px;width:11.18px;background:linear-gradient(#20002a 6.8px,#20002a 17.2px,#20002a 27.6px,#44006c 38.0px,#44006c 48.4px,#44006c 58.8px,#3400b9 69.2px,#3400b9 79.6px,#3400b9 89.9px,#3400b9 100.3px,#3400b9 110.7px,#3400b9 121.1px,#3400b9 131.5px,#3400b9 141.9px,#3400b9 152.3px,#0f1efa 162.7px,#0f1efa 173.1px,#0f1efa 183.5px,#0f1efa 193.9px,#008cff 204.3px,#008cff 214.7px,#008cff 225.1px,#008cff 235.4px,#008cff 245.8px,#00e6ff 256.2px,#00e6ff 266.6px,#00e6ff 277.0px,#00e6ff 287.4px,#00ff96 297.8px,#0aff2d 308.2px,#00ff96 318.6px,#00ff96 329.0px,#00ff96 339.4px,#00ff96 349.8px,#00ff96 360.2px,#00ff96 370.6px,#00ff96 380.9px,#00ff96 391.3px,#00ff96 401.7px,#00ff96 412.1px,#0aff2d 422.5px,#0aff2d 432.9px,#0aff2d 443.3px,#0aff2d 453.7px,#0aff2d 464.1px,#96ff00 474.5px,#ebff00 484.9px,#ffe600 495.3px,#ffe600 505.7px,#ffaa00 516.1px,#ebff00 526.4px,#ebff00 536.8px,#ffe600 547.2px,#ff5a00 557.6px,#ff5a00 568.0px,#96ff00 578.4px,#00ff96 588.8px,#00ff96 599.2px)"></i>
<i style="left:593.78px;width:11.18px;background:linear-gradient(#20002a 6.8px,#20002a 17.2px,#20002a 27.6px,#44006c 38.0px,#44006c 48.4px,#44006c 58.8px,#44006c 69.2px,#3400b9 79.6px,#3400b9 89.9px,#3400b9 100.3px,#3400b9 110.7px,#3400b9 121.1px,#3400b9 131.5px,#3400b9 141.9px,#3400b9 152.3px,#3400b9 162.7px,#3400b9 173.1px,#0f1efa 183.5px,#0f1efa 193.9px,#0f1efa 204.3px,#0f1efa 214.7px,#0f1efa 225.1px,#008cff 235.4px,#008cff 245.8px,#008cff 256.2px,#008cff 266.6px,#008cff 277.0px,#00e6ff 287.4px,#00ff96 297.8px,#0aff2d 308.2px,#0aff2d 318.6px,#0aff2d 329.0px,#0aff2d 339.4px,#0aff2d 349.8px,#00ff96 360.2px,#00ff96 370.6px,#00ff96 380.9px,#0aff2d 391.3px,#0aff2d 401.7px,#0aff2d 412.1px,#0aff2d 422.5px,#0aff2d 432.9px,#0aff2d 443.3px,#0aff2d 453.7px,#0aff2d 464.1px,#96ff00 474.5px,#ebff00 484.9px,#ffe600 495.3px,#ffaa00 505.7px,#ffaa00 516.1px,#ff5a00 526.4px,#ffaa00 536.8px,#96ff00 547.2px,#96ff00 557.6px,#96ff00 568.0px,#0aff2d 578.4px,#00ff96 588.8px,#00ff96 599.2px)"></i>
<i style="left:604.37px;width:11.18px;background:linear-gradient(#0a000a 6.8px,#0a000a 17.2px,#20002a 27.6px,#20002a 38.0px,#44006c 48.4px,#44006c 58.8px,#44006c 69.2px,#3400b9 79.6px,#3400b9 89.9px,#3400b9 100.3px,#3400b9 110.7px,#3400b9 121.1px,#3400b9 131.5px,#3400b9 141.9px,#3400b9 152.3px,#3400b9 162.7px,#3400b9 173.1px,#3400b9 183.5px,#0f1efa 193.9px,#0f1efa 204.3px,#0f1efa 214.7px,#0f1efa 225.1px,#0f1efa 235.4px,#008cff 245.8px,#008cff 256.2px,#008cff 266.6px,#00e6ff 277.0px,#00e6ff 287.4px,#00e6ff 297.8px,#00ff96 308.2px,#0aff2d 318.6px,#0aff2d 329.0px,#00ff96 339.4px,#00ff96 349.8px,#00e6ff 360.2px,#00e6ff 370.6px,#00ff96 380.9px,#00ff96 391.3px,#00ff96 401.7px,#00ff96 412.1px,#0aff2d 422.5px,#0aff2d 432.9px,#0aff2d 443.3px,#0aff2d 453.7px,#0aff2d 464.1px,#96ff00 474.5px,#ebff00 484.9px,#ffe600 495.3px,#ffaa00 505.7px,#ffaa00 516.1px,#ffaa00 526.4px,#ff5a00 536.8px,#ff5a00 547.2px,#0aff2d 557.6px,#00ff96 568.0px,#00ff96 578.4px,#00e6ff 588.8px,#00e6ff 599.2px)"></i>
<i style="left:614.95px;width:11.18px;background:linear-gradient(#0a000a 6.8px,#0a000a 17.2px,#20002a 27.6px,#20002a 38.0px,#44006c 48.4px,#44006c 58.8px,#44006c 69.2px,#44006c 79.6px,#3400b9 89.9px,#3400b9 100.3px,#3400b9 110.7px,#44006c 121.1px,#3400b9 131.5px,#3400b9 141.9px,#3400b9 152.3px,#3400b9 162.7px,#3400b9 173.1px,#3400b9 183.5px,#3400b9 193.9px,#3400b9 204.3px,#0f1efa 214.7px,#0f1efa 225.1px,#0f1efa 235.4px,#008cff 245.8px,#008cff 256.2px,#00e6ff 266.6px,#00e6ff 277.0px,#00e6ff 287.4px,#00ff96 297.8px,#00ff96 308.2px,#00ff96 318.6px,#00ff96 329.0px,#00ff96 339.4px,#00ff96 349.8px,#00e6ff 360.2px,#00e6ff 370.6px,#00e6ff 380.9px,#00ff96 391.3px,#00ff96 401.7px,#00ff96 412.1px,#00ff96 422.5px,#0aff2d 432.9px,#00ff96 443.3px,#0aff2d 453.7px,#0aff2d 464.1px,#0aff2d 474.5px,#96ff00 484.9px,#ebff00 495.3px,#ffe600 505.7px,#ffaa00 516.1px,#ffaa00 526.4px,#ffaa00 536.8px,#ff5a00 547.2px,#ffaa00 557.6px,#0aff2d 568.0px,#00e6ff 578.4px,#0f1efa 588.8px,#0f1efa 599.2px)"></i>
<i style="left:625.53px;width:11.18px;background:linear-gradient(#0a000a 6.8px,#0a000a 17.2px,#0a000a 27.6px,#20002a 38.0px,#20002a 48.4px,#44006c 58.8px,#44006c 69.2px,#44006c 79.6px,#44006c 89.9px,#44006c 100.3px,#3400b9 110.7px,#44006c 121.1px,#44006c 131.5px,#44006c 141.9px,#3400b9 152.3px,#3400b9 162.7px,#3400b9 173.1px,#3400b9 183.5px,#3400b9 193.9px,#3400b9 204.3px,#3400b9 214.7px,#3400b9 225.1px,#0f1efa 235.4px,#008cff 245.8px,#00e6ff 256.2px,#00e6ff 266.6px,#00e6ff 277.0px,#00e6ff 287.4px,#00ff96 297.8px,#00ff96 308.2px,#00ff96 318.6px,#00e6ff 329.0px,#00e6ff 339.4px,#00e6ff 349.8px,#008cff 360.2px,#008cff 370.6px,#00e6ff 380.9px,#00ff96 391.3px,#00ff96 401.7px,#00ff96 412.1px,#00ff96 422.5px,#00ff96 432.9px,#00e6ff 443.3px,#00e6ff 453.7px,#00ff96 464.1px,#0aff2d 474.5px,#0aff2d 484.9px,#96ff00 495.3px,#ebff00 505.7px,#ebff00 516.1px,#ffe600 526.4px,#ffe600 536.8px,#ffaa00 547.2px,#ffaa00 557.6px,#96ff00 568.0px,#00e6ff 578.4px,#0f1efa 588.8px,#0f1efa 599.2px)"></i>
<i style="left:636.12px;width:11.18px;background:linear-gradient(#0a000a 6.8px,#0a000a 17.2px,#0a000a 27.6px,#20002a 38.0px,#20002a 48.4px,#20002a 58.8px,#44006c 69.2px,#44006c 79.6px,#44006c 89.9px,#44006c 100.3px,#44006c 110.7px,#44006c 121.1px,#44006c 131.5px,#44006c 141.9px,#44006c 152.3px,#3400b9 162.7px,#3400b9 173.1px,#3400b9 183.5px,#3400b9 193.9px,#3400b9 204.3px,#3400b9 214.7px,#0f1efa 225.1px,#008cff 235.4px,#008cff 245.8px,#00e6ff 256.2px,#00e6ff 266.6px,#00e6ff 277.0px,#00ff96 287.4px,#00ff96 297.8px,#00ff96 308.2px,#00ff96 318.6px,#00ff96 329.0px,#00ff96 339.4px,#00e6ff 349.8px,#00e6ff 360.2px,#00e6ff 370.6px,#00e6ff 380.9px,#00e6ff 391.3px,#00ff96 401.7px,#00ff96 412.1px,#00ff96 422.5px,#00e6ff 432.9px,#008cff 443.3px,#00e6ff 453.7px,#00e6ff 464.1px,#00ff96 474.5px,#0aff2d 484.9px,#96ff00 495.3px,#96ff00 505.7px,#ebff00 516.1px,#ebff00 526.4px,#ffe600 536.8px,#ffe600 547.2px,#ffe600 557.6px,#0aff2d 568.0px,#008cff 578.4px,#0f1efa 588.8px,#0f1efa 599.2px)"></i>
<i style="left:646.70px;width:11.18px;background:linear-gradient(#0a000a 6.8px,#0a000a 17.2px,#0a000a 27.6px,#20002a 38.0px,#20002a 48.4px,#20002a 58.8px,#44006c 69.2px,#44006c 79.6px,#44006c 89.9px,#44006c 100.3px,#44006c 110.7px,#44006c 121.1px,#44006c 131.5px,#44006c 141.9px,#44006c 152.3px,#3400b9 162.7px,#3400b9 173.1px,#3400b9 183.5px,#0f1efa 193.9px,#0f1efa 204.3px,#0f1efa 214.7px,#008cff 225.1px,#008cff 235.4px,#008cff 245.8px,#00e6ff 256.2px,#00e6ff 266.6px,#00ff96 277.0px,#00ff96 287.4px,#00ff96 297.8px,#00ff96 308.2px,#00ff96 318.6px,#00ff96 329.0px,#00ff96 339.4px,#00ff96 349.8px,#00ff96 360.2px,#00ff96 370.6px,#00ff96 380.9px,#00ff96 391.3px,#00ff96 401.7px,#0aff2d 412.1px,#0aff2d 422.5px,#00ff96 432.9px,#00ff96 443.3px,#00e6ff 453.7px,#00ff96 464.1px,#0aff2d 474.5px,#0aff2d 484.9px,#96ff00 495.3px,#ebff00 505.7px,#ffe600 516.1px,#ffe600 526.4px,#ffe600 536.8px,#ffaa00 547.2px,#ffe600 557.6px,#ebff00 568.0px,#00e6ff 578.4px,#008cff 588.8px,#008cff 599.2px)"></i>
<i style="left:657.28px;width:11.18px;background:linear-gradient(#0a000a 6.8px,#0a000a 17.2px,#0a000a 27.6px,#20002a 38.0px,#20002a 48.4px,#44006c 58.8px,#44006c 69.2px,#44006c 79.6px,#44006c 89.9px,#44006c 100.3px,#44006c 110.7px,#44006c 121.1px,#44006c 131.5px,#44006c 141.9px,#44006c 152.3px,#3400b9 162.7px,#3400b9 173.1px,#3400b9 183.5px,#0f1efa 193.9px,#0f1efa 204.3px,#0f1efa 214.7px,#0f1efa 225.1px,#008cff 235.4px,#008cff 245.8px,#008cff 256.2px,#00e6ff 266.6px,#00e6ff 277.0px,#00e6ff 287.4px,#00e6ff 297.8px,#00e6ff 308.2px,#00e6ff 318.6px,#00e6ff 329.0px,#00e6ff 339.4px,#00e6ff 349.8px,#00e6ff 360.2px,#00e6ff 370.6px,#00e6ff 380.9px,#00e6ff 391.3px,#00ff96 401.7px,#00ff96 412.1px,#0aff2d 422.5px,#0aff2d 432.9px,#00ff96 443.3px,#00ff96 453.7px,#0aff2d 464.1px,#0aff2d 474.5px,#0aff2d 484.9px,#96ff00 495.3px,#ebff00 505.7px,#ffe600 516.1px,#ffaa00 526.4px,#ffe600 536.8px,#ffe600 547.2px,#ebff00 557.6px,#96ff00 568.0px,#00ff96 578.4px,#008cff 588.8px,#008cff 599.2px)"></i>
<i style="left:667.87px;width:11.18px;background:linear-gradient(#0a000a 6.8px,#0a000a 17.2px,#0a000a 27.6px,#20002a 38.0px,#44006c 48.4px,#44006c 58.8px,#44006c 69.2px,#44006c 79.6px,#44006c 89.9px,#44006c 100.3px,#44006c 110.7px,#44006c 121.1px,#44006c 131.5px,#44006c 141.9px,#44006c 152.3px,#3400b9 162.7px,#3400b9 173.1px,#3400b9 183.5px,#3400b9 193.9px,#3400b9 204.3px,#0f1efa 214.7px,#0f1efa 225.1px,#0f1efa 235.4px,#0f1efa 245.8px,#0f1efa 256.2px,#0f1efa 266.6px,#008cff 277.0px,#008cff 287.4px,#00e6ff 297.8px,#00e6ff 308.2px,#00e6ff 318.6px,#00e6ff 329.0px,#00ff96 339.4px,#00e6ff 349.8px,#00e6ff 360.2px,#00e6ff 370.6px,#00e6ff 380.9px,#00e6ff 391.3px,#00ff96 401.7px,#0aff2d 412.1px,#0aff2d 422.5px,#0aff2d 432.9px,#0aff2d 443.3px,#0aff2d 453.7px,#0aff2d 464.1px,#0aff2d 474.5px,#0aff2d 484.9px,#0aff2d 495.3px,#96ff00 505.7px,#ffe600 516.1px,#ffaa00 526.4px,#ffe600 536.8px,#ebff00 547.2px,#96ff00 557.6px,#ffe600 568.0px,#0aff2d 578.4px,#008cff 588.8px,#008cff 599.2px)"></i>
<i style="left:678.45px;width:11.18px;background:linear-gradient(#0a000a 6.8px,#0a000a 17.2px,#0a000a 27.6px,#20002a 38.0px,#44006c 48.4px,#44006c 58.8px,#44006c 69.2px,#44006c 79.6px,#44006c 89.9px,#44006c 100.3px,#44006c 110.7px,#44006c 121.1px,#44006c 131.5px,#44006c 141.9px,#44006c 152.3px,#3400b9 162.7px,#3400b9 173.1px,#3400b9 183.5px,#3400b9 193.9px,#3400b9 204.3px,#3400b9 214.7px,#3400b9 225.1px,#0f1efa 235.4px,#0f1efa 245.8px,#008cff 256.2px,#008cff 266.6px,#008cff 277.0px,#00e6ff 287.4px,#00e6ff 297.8px,#00e6ff 308.2px,#00e6ff 318.6px,#00e6ff 329.0px,#00e6ff 339.4px,#00e6ff 349.8px,#00ff96 360.2px,#00ff96 370.6px,#00e6ff 380.9px,#00e6ff 391.3px,#00e6ff 401.7px,#00ff96 412.1px,#00ff96 422.5px,#0aff2d 432.9px,#0aff2d 443.3px,#0aff2d 453.7px,#0aff2d 464.1px,#0aff2d 474.5px,#0aff2d 484.9px,#0aff2d 495.3px,#96ff00 505.7px,#ebff00 516.1px,#ebff00 526.4px,#ebff00 536.8px,#ffe600 547.2px,#ebff00 557.6px,#ffaa00 568.0px,#0aff2d 578.4px,#008cff 588.8px,#008cff 599.2px)"></i>
<i style="left:689.03px;width:11.18px;background:linear-gradient(#0a000a 6.8px,#0a000a 17.2px,#0a000a 27.6px,#20002a 38.0px,#44006c 48.4px,#44006c 58.8px,#44006c 69.2px,#44006c 79.6px,#44006c 89.9px,#44006c 100.3px,#44006c 110.7px,#44006c 121.1px,#44006c 131.5px,#44006c 141.9px,#44006c 152.3px,#3400b9 162.7px,#3400b9 173.1px,#3400b9 183.5px,#3400b9 193.9px,#3400b9 204.3px,#3400b9 214.7px,#3400b9 225.1px,#0f1efa 235.4px,#0f1efa 245.8px,#008cff 256.2px,#008cff 266.6px,#00e6ff 277.0px,#00e6ff 287.4px,#00e6ff 297.8px,#00e6ff 308.2px,#00e6ff 318.6px,#00e6ff 329.0px,#00e6ff 339.4px,#00e6ff 349.8px,#00e6ff 360.2px,#00e6ff 370.6px,#008cff 380.9px,#008cff 391.3px,#008cff 401.7px,#00e6ff 412.1px,#00e6ff 422.5px,#00e6ff 432.9px,#00ff96 443.3px,#0aff2d 453.7px,#0aff2d 464.1px,#0aff2d 474.5px,#0aff2d 484.9px,#0aff2d 495.3px,#0aff2d 505.7px,#0aff2d 516.1px,#0aff2d 526.4px,#0aff2d 536.8px,#96ff00 547.2px,#96ff00 557.6px,#0aff2d 568.0px,#00ff96 578.4px,#00e6ff 588.8px,#00e6ff 599.2px)"></i>
<i style="left:699.62px;width:11.18px;background:linear-gradient(#0a000a 6.8px,#0a000a 17.2px,#0a000a 27.6px,#20002a 38.0px,#44006c 48.4px,#44006c 58.8px,#44006c 69.2px,#44006c 79.6px,#44006c 89.9px,#44006c 100.3px,#44006c 110.7px,#44006c 121.1px,#44006c 131.5px,#44006c 141.9px,#44006c 152.3px,#3400b9 162.7px,#3400b9 173.1px,#3400b9 183.5px,#3400b9 193.9px,#3400b9 204.3px,#3400b9 214.7px,#3400b9 225.1px,#3400b9 235.4px,#0f1efa 245.8px,#0f1efa 256.2px,#0f1efa 266.6px,#0f1efa 277.0px,#008cff 287.4px,#00e6ff 297.8px,#00e6ff 308.2px,#00e6ff 318.6px,#00e6ff 329.0px,#00e6ff 339.4px,#00e6ff 349.8px,#00e6ff 360.2px,#00e6ff 370.6px,#008cff 380.9px,#0f1efa 391.3px,#0f1efa 401.7px,#008cff 412.1px,#008cff 422.5px,#00e6ff 432.9px,#00e6ff 443.3px,#00ff96 453.7px,#00ff96 464.1px,#00ff96 474.5px,#0aff2d 484.9px,#00ff96 495.3px,#00ff96 505.7px,#0aff2d 516.1px,#0aff2d 526.4px,#0aff2d 536.8px,#00ff96 547.2px,#00e6ff 557.6px,#008cff 568.0px,#0f1efa 578.4px,#0f1efa 588.8px,#0f1efa 599.2px)"></i>
<i style="left:710.20px;width:11.18px;background:linear-gradient(#0a000a 6.8px,#0a000a 17.2px,#0a000a 27.6px,#0a000a 38.0px,#20002a 48.4px,#44006c 58.8px,#44006c 69.2px,#44006c 79.6px,#44006c 89.9px,#44006c 100.3px,#44006c 110.7px,#44006c 121.1px,#44006c 131.5px,#44006c 141.9px,#44006c 152.3px,#44006c 162.7px,#3400b9 173.1px,#3400b9 183.5px,#3400b9 193.9px,#3400b9 204.3px,#3400b9 214.7px,#3400b9 225.1px,#3400b9 235.4px,#3400b9 245.8px,#3400b9 256.2px,#3400b9 266.6px,#3400b9 277.0px,#0f1efa 287.4px,#008cff 297.8px,#008cff 308.2px,#008cff 318.6px,#008cff 329.0px,#008cff 339.4px,#008cff 349.8px,#008cff 360.2px,#008cff 370.6px,#008cff 380.9px,#0f1efa 391.3px,#0f1efa 401.7px,#0f1efa 412.1px,#008cff 422.5px,#008cff 432.9px,#00e6ff 443.3px,#00ff96 453.7px,#00e6ff 464.1px,#00ff96 474.5px,#00ff96 484.9px,#00e6ff 495.3px,#00e6ff 505.7px,#00e6ff 516.1px,#00e6ff 526.4px,#00e6ff 536.8px,#00e6ff 547.2px,#008cff 557.6px,#008cff 568.0px,#0f1efa 578.4px,#3400b9 588.8px,#3400b9 599.2px)"></i>
<i style="left:720.78px;width:11.18px;background:linear-gradient(#0a000a 6.8px,#0a000a 17.2px,#0a000a 27.6px,#0a000a 38.0px,#20002a 48.4px,#20002a 58.8px,#20002a 69.2px,#20002a 79.6px,#44006c 89.9px,#44006c 100.3px,#44006c 110.7px,#44006c 121.1px,#44006c 131.5px,#44006c 141.9px,#44006c 152.3px,#44006c 162.7px,#44006c 173.1px,#3400b9 183.5px,#3400b9 193.9px,#3400b9 204.3px,#3400b9 214.7px,#3400b9 225.1px,#3400b9 235.4px,#3400b9 245.8px,#3400b9 256.2px,#3400b9 266.6px,#3400b9 277.0px,#3400b9 287.4px,#0f1efa 297.8px,#008cff 308.2px,#008cff 318.6px,#0f1efa 329.0px,#3400b9 339.4px,#3400b9 349.8px,#0f1efa 360.2px,#008cff 370.6px,#00e6ff 380.9px,#008cff 391.3px,#008cff 401.7px,#0f1efa 412.1px,#008cff 422.5px,#008cff 432.9px,#00e6ff 443.3px,#00ff96 453.7px,#00ff96 464.1px,#00ff96 474.5px,#00ff96 484.9px,#00ff96 495.3px,#00ff96 505.7px,#00ff96 516.1px,#0aff2d 526.4px,#00e6ff 536.8px,#008cff 547.2px,#008cff 557.6px,#0f1efa 568.0px,#0f1efa 578.4px,#3400b9 588.8px,#3400b9 599.2px)"></i>
<i style="left:731.37px;width:11.18px;background:linear-gradient(#0a000a 6.8px,#0a000a 17.2px,#0a000a 27.6px,#0a000a 38.0px,#20002a 48.4px,#20002a 58.8px,#20002a 69.2px,#20002a 79.6px,#44006c 89.9px,#44006c 100.3px,#44006c 110.7px,#44006c 121.1px,#44006c 131.5px,#44006c 141.9px,#44006c 152.3px,#44006c 162.7px,#44006c 173.1px,#44006c 183.5px,#3400b9 193.9px,#3400b9 204.3px,#3400b9 214.7px,#3400b9 225.1px,#3400b9 235.4px,#3400b9 245.8px,#3400b9 256.2px,#3400b9 266.6px,#3400b9 277.0px,#3400b9 287.4px,#0f1efa 297.8px,#00e6ff 308.2px,#00e6ff 318.6px,#008cff 329.0px,#0f1efa 339.4px,#0f1efa 349.8px,#008cff 360.2px,#00e6ff 370.6px,#00e6ff 380.9px,#008cff 391.3px,#008cff 401.7px,#0f1efa 412.1px,#0f1efa 422.5px,#008cff 432.9px,#00e6ff 443.3px,#0aff2d 453.7px,#0aff2d 464.1px,#0aff2d 474.5px,#0aff2d 484.9px,#0aff2d 495.3px,#0aff2d 505.7px,#96ff00 516.1px,#96ff00 526.4px,#008cff 536.8px,#0f1efa 547.2px,#0f1efa 557.6px,#0f1efa 568.0px,#3400b9 578.4px,#3400b9 588.8px,#3400b9 599.2px)"></i>
<i style="left:741.95px;width:11.18px;background:linear-gradient(#0a000a 6.8px,#0a000a 17.2px,#0a000a 27.6px,#0a000a 38.0px,#20002a 48.4px,#20002a 58.8px,#20002a 69.2px,#3400b9 79.6px,#3400b9 89.9px,#3400b9 100.3px,#3400b9 110.7px,#44006c 121.1px,#44006c 131.5px,#44006c 141.9px,#44006c 152.3px,#44006c 162.7px,#44006c 173.1px,#44006c 183.5px,#44006c 193.9px,#3400b9 204.3px,#3400b9 214.7px,#3400b9 225.1px,#0f1efa 235.4px,#0f1efa 245.8px,#0f1efa 256.2px,#0f1efa 266.6px,#3400b9 277.0px,#3400b9 287.4px,#3400b9 297.8px,#00e6ff 308.2px,#00e6ff 318.6px,#00e6ff 329.0px,#00e6ff 339.4px,#00e6ff 349.8px,#008cff 360.2px,#008cff 370.6px,#008cff 380.9px,#008cff 391.3px,#008cff 401.7px,#008cff 412.1px,#008cff 422.5px,#00e6ff 432.9px,#00ff96 443.3px,#0aff2d 453.7px,#0aff2d 464.1px,#0aff2d 474.5px,#0aff2d 484.9px,#0aff2d 495.3px,#96ff00 505.7px,#96ff00 516.1px,#0aff2d 526.4px,#00e6ff 536.8px,#008cff 547.2px,#0f1efa 557.6px,#3400b9 568.0px,#3400b9 578.4px,#44006c 588.8px,#44006c 599.2px)"></i>
<i style="left:752.53px;width:11.18px;background:linear-gradient(#0a000a 6.8px,#0a000a 17.2px,#0a000a 27.6px,#0a000a 38.0px,#20002a 48.4px,#20002a 58.8px,#44006c 69.2px,#44006c 79.6px,#44006c 89.9px,#44006c 100.3px,#44006c 110.7px,#44006c 121.1px,#44006c 131.5px,#44006c 141.9px,#44006c 152.3px,#44006c 162.7px,#44006c 173.1px,#44006c 183.5px,#44006c 193.9px,#3400b9 204.3px,#3400b9 214.7px,#3400b9 225.1px,#0f1efa 235.4px,#0f1efa 245.8px,#0f1efa 256.2px,#0f1efa 266.6px,#0f1efa 277.0px,#3400b9 287.4px,#3400b9 297.8px,#0f1efa 308.2px,#0f1efa 318.6px,#0f1efa 329.0px,#008cff 339.4px,#0f1efa 349.8px,#0f1efa 360.2px,#008cff 370.6px,#008cff 380.9px,#008cff 391.3px,#008cff 401.7px,#00e6ff 412.1px,#00e6ff 422.5px,#00e6ff 432.9px,#00ff96 443.3px,#0aff2d 453.7px,#0aff2d 464.1px,#96ff00 474.5px,#96ff00 484.9px,#96ff00 495.3px,#ebff00 505.7px,#ebff00 516.1px,#ebff00 526.4px,#00ff96 536.8px,#008cff 547.2px,#0f1efa 557.6px,#0f1efa 568.0px,#3400b9 578.4px,#44006c 588.8px,#44006c 599.2px)"></i>
<i style="left:763.12px;width:11.18px;background:linear-gradient(#0a000a 6.8px,#0a000a 17.2px,#0a000a 27.6px,#0a000a 38.0px,#20002a 48.4px,#20002a 58.8px,#20002a 69.2px,#20002a 79.6px,#44006c 89.9px,#20002a 100.3px,#44006c 110.7px,#44006c 121.1px,#20002a 131.5px,#20002a 141.9px,#44006c 152.3px,#44006c 162.7px,#44006c 173.1px,#44006c 183.5px,#44006c 193.9px,#44006c 204.3px,#3400b9 214.7px,#3400b9 225.1px,#3400b9 235.4px,#3400b9 245.8px,#3400b9 256.2px,#3400b9 266.6px,#3400b9 277.0px,#3400b9 287.4px,#3400b9 297.8px,#3400b9 308.2px,#3400b9 318.6px,#3400b9 329.0px,#0f1efa 339.4px,#3400b9 349.8px,#3400b9 360.2px,#0f1efa 370.6px,#0f1efa 380.9px,#008cff 391.3px,#00e6ff 401.7px,#00e6ff 412.1px,#00e6ff 422.5px,#00ff96 432.9px,#0aff2d 443.3px,#0aff2d 453.7px,#0aff2d 464.1px,#0aff2d 474.5px,#96ff00 484.9px,#96ff00 495.3px,#96ff00 505.7px,#ebff00 516.1px,#ebff00 526.4px,#ebff00 536.8px,#00e6ff 547.2px,#0f1efa 557.6px,#3400b9 568.0px,#3400b9 578.4px,#3400b9 588.8px,#3400b9 599.2px)"></i>
<i style="left:773.70px;width:11.18px;background:linear-gradient(#0a000a 6.8px,#0a000a 17.2px,#0a000a 27.6px,#0a000a 38.0px,#20002a 48.4px,#20002a 58.8px,#44006c 69.2px,#44006c 79.6px,#44006c 89.9px,#44006c 100.3px,#20002a 110.7px,#20002a 121.1px,#20002a 131.5px,#20002a 141.9px,#44006c 152.3px,#44006c 162.7px,#44006c 173.1px,#44006c 183.5px,#44006c 193.9px,#3400b9 204.3px,#3400b9 214.7px,#3400b9 225.1px,#3400b9 235.4px,#3400b9 245.8px,#3400b9 256.2px,#3400b9 266.6px,#3400b9 277.0px,#3400b9 287.4px,#0f1efa 297.8px,#3400b9 308.2px,#3400b9 318.6px,#3400b9 329.0px,#0f1efa 339.4px,#00e6ff 349.8px,#00e6ff 360.2px,#008cff 370.6px,#00e6ff 380.9px,#00e6ff 391.3px,#00e6ff 401.7px,#00e6ff 412.1px,#00e6ff 422.5px,#00ff96 432.9px,#00ff96 443.3px,#0aff2d 453.7px,#0aff2d 464.1px,#96ff00 474.5px,#96ff00 484.9px,#96ff00 495.3px,#ebff00 505.7px,#ebff00 516.1px,#ffe600 526.4px,#ebff00 536.8px,#00e6ff 547.2px,#0f1efa 557.6px,#3400b9 568.0px,#3400b9 578.4px,#44006c 588.8px,#44006c 599.2px)"></i>
<i style="left:784.28px;width:11.18px;background:linear-gradient(#0a000a 6.8px,#0a000a 17.2px,#0a000a 27.6px,#0a000a 38.0px,#20002a 48.4px,#20002a 58.8px,#20002a 69.2px,#44006c 79.6px,#44006c 89.9px,#44006c 100.3px,#44006c 110.7px,#20002a 121.1px,#20002a 131.5px,#20002a 141.9px,#44006c 152.3px,#44006c 162.7px,#44006c 173.1px,#44006c 183.5px,#44006c 193.9px,#44006c 204.3px,#3400b9 214.7px,#3400b9 225.1px,#3400b9 235.4px,#3400b9 245.8px,#3400b9 256.2px,#3400b9 266.6px,#3400b9 277.0px,#3400b9 287.4px,#0f1efa 297.8px,#0f1efa 308.2px,#0f1efa 318.6px,#0f1efa 329.0px,#0f1efa 339.4px,#008cff 349.8px,#008cff 360.2px,#008cff 370.6px,#0f1efa 380.9px,#0f1efa 391.3px,#008cff 401.7px,#008cff 412.1px,#008cff 422.5px,#00e6ff 432.9px,#00e6ff 443.3px,#00ff96 453.7px,#00ff96 464.1px,#0aff2d 474.5px,#0aff2d 484.9px,#96ff00 495.3px,#ebff00 505.7px,#ebff00 516.1px,#ebff00 526.4px,#96ff00 536.8px,#0aff2d 547.2px,#008cff 557.6px,#0f1efa 568.0px,#3400b9 578.4px,#44006c 588.8px,#44006c 599.2px)"></i>
<i style="left:794.87px;width:11.18px;background:linear-gradient(#0a000a 6.8px,#0a000a 17.2px,#0a000a 27.6px,#0a000a 38.0px,#20002a 48.4px,#20002a 58.8px,#20002a 69.2px,#44006c 79.6px,#44006c 89.9px,#44006c 100.3px,#20002a 110.7px,#20002a 121.1px,#20002a 131.5px,#20002a 141.9px,#44006c 152.3px,#44006c 162.7px,#44006c 173.1px,#44006c 183.5px,#44006c 193.9px,#44006c 204.3px,#3400b9 214.7px,#3400b9 225.1px,#3400b9 235.4px,#3400b9 245.8px,#3400b9 256.2px,#3400b9 266.6px,#3400b9 277.0px,#3400b9 287.4px,#3400b9 297.8px,#3400b9 308.2px,#3400b9 318.6px,#0f1efa 329.0px,#3400b9 339.4px,#008cff 349.8px,#008cff 360.2px,#008cff 370.6px,#0f1efa 380.9px,#0f1efa 391.3px,#0f1efa 401.7px,#008cff 412.1px,#008cff 422.5px,#008cff 432.9px,#008cff 443.3px,#00ff96 453.7px,#00ff96 464.1px,#0aff2d 474.5px,#0aff2d 484.9px,#0aff2d 495.3px,#0aff2d 505.7px,#96ff00 516.1px,#96ff00 526.4px,#0aff2d 536.8px,#00ff96 547.2px,#00ff96 557.6px,#0f1efa 568.0px,#3400b9 578.4px,#3400b9 588.8px,#3400b9 599.2px)"></i>
<i style="left:805.45px;width:11.18px;background:linear-gradient(#0a000a 6.8px,#0a000a 17.2px,#0a000a 27.6px,#0a000a 38.0px,#20002a 48.4px,#20002a 58.8px,#20002a 69.2px,#44006c 79.6px,#44006c 89.9px,#44006c 100.3px,#44006c 110.7px,#20002a 121.1px,#20002a 131.5px,#20002a 141.9px,#44006c 152.3px,#44006c 162.7px,#44006c 173.1px,#3400b9 183.5px,#3400b9 193.9px,#3400b9 204.3px,#3400b9 214.7px,#3400b9 225.1px,#3400b9 235.4px,#3400b9 245.8px,#3400b9 256.2px,#3400b9 266.6px,#3400b9 277.0px,#3400b9 287.4px,#3400b9 297.8px,#3400b9 308.2px,#3400b9 318.6px,#0f1efa 329.0px,#0f1efa 339.4px,#0f1efa 349.8px,#008cff 360.2px,#008cff 370.6px,#008cff 380.9px,#008cff 391.3px,#008cff 401.7px,#008cff 412.1px,#008cff 422.5px,#008cff 432.9px,#008cff 443.3px,#00ff96 453.7px,#00ff96 464.1px,#0aff2d 474.5px,#0aff2d 484.9px,#00ff96 495.3px,#00ff96 505.7px,#00ff96 516.1px,#0aff2d 526.4px,#96ff00 536.8px,#96ff00 547.2px,#96ff00 557.6px,#00e6ff 568.0px,#0f1efa 578.4px,#3400b9 588.8px,#3400b9 599.2px)"></i>
<i style="left:816.03px;width:11.18px;background:linear-gradient(#0a000a 6.8px,#0a000a 17.2px,#0a000a 27.6px,#0a000a 38.0px,#20002a 48.4px,#20002a 58.8px,#20002a 69.2px,#20002a 79.6px,#44006c 89.9px,#44006c 100.3px,#44006c 110.7px,#44006c 121.1px,#44006c 131.5px,#44006c 141.9px,#44006c 152.3px,#3400b9 162.7px,#3400b9 173.1px,#3400b9 183.5px,#3400b9 193.9px,#3400b9 204.3px,#3400b9 214.7px,#3400b9 225.1px,#3400b9 235.4px,#3400b9 245.8px,#3400b9 256.2px,#0f1efa 266.6px,#0f1efa 277.0px,#3400b9 287.4px,#0f1efa 297.8px,#0f1efa 308.2px,#0f1efa 318.6px,#008cff 329.0px,#0f1efa 339.4px,#0f1efa 349.8px,#008cff 360.2px,#00e6ff 370.6px,#00e6ff 380.9px,#00e6ff 391.3px,#008cff 401.7px,#008cff 412.1px,#008cff 422.5px,#008cff 432.9px,#008cff 443.3px,#00e6ff 453.7px,#00ff96 464.1px,#0aff2d 474.5px,#00ff96 484.9px,#00ff96 495.3px,#00ff96 505.7px,#00ff96 516.1px,#0aff2d 526.4px,#96ff00 536.8px,#ffe600 547.2px,#ffe600 557.6px,#96ff00 568.0px,#00ff96 578.4px,#0f1efa 588.8px,#0f1efa 599.2px)"></i>
<i style="left:826.62px;width:11.18px;background:linear-gradient(#0a000a 6.8px,#0a000a 17.2px,#0a000a 27.6px,#0a000a 38.0px,#44006c 48.4px,#20002a 58.8px,#20002a 69.2px,#44006c 79.6px,#44006c 89.9px,#44006c 100.3px,#44006c 110.7px,#44006c 121.1px,#44006c 131.5px,#44006c 141.9px,#44006c 152.3px,#3400b9 162.7px,#3400b9 173.1px,#3400b9 183.5px,#3400b9 193.9px,#3400b9 204.3px,#3400b9 214.7px,#3400b9 225.1px,#0f1efa 235.4px,#008cff 245.8px,#0f1efa 256.2px,#0f1efa 266.6px,#0f1efa 277.0px,#008cff 287.4px,#008cff 297.8px,#0f1efa 308.2px,#0f1efa 318.6px,#008cff 329.0px,#008cff 339.4px,#008cff 349.8px,#00e6ff 360.2px,#00e6ff 370.6px,#00e6ff 380.9px,#008cff 391.3px,#0f1efa 401.7px,#0f1efa 412.1px,#0f1efa 422.5px,#008cff 432.9px,#008cff 443.3px,#00ff96 453.7px,#00ff96 464.1px,#0aff2d 474.5px,#0aff2d 484.9px,#96ff00 495.3px,#96ff00 505.7px,#ebff00 516.1px,#ebff00 526.4px,#ebff00 536.8px,#ebff00 547.2px,#ebff00 557.6px,#ebff00 568.0px,#0aff2d 578.4px,#008cff 588.8px,#008cff 599.2px)"></i>
<i style="left:837.20px;width:11.18px;background:linear-gradient(#0a000a 6.8px,#0a000a 17.2px,#0a000a 27.6px,#0a000a 38.0px,#44006c 48.4px,#44006c 58.8px,#20002a 69.2px,#44006c 79.6px,#44006c 89.9px,#44006c 100.3px,#44006c 110.7px,#44006c 121.1px,#44006c 131.5px,#44006c 141.9px,#44006c 152.3px,#3400b9 162.7px,#3400b9 173.1px,#3400b9 183.5px,#3400b9 193.9px,#3400b9 204.3px,#3400b9 214.7px,#3400b9 225.1px,#0f1efa 235.4px,#0f1efa 245.8px,#0f1efa 256.2px,#0f1efa 266.6px,#0f1efa 277.0px,#008cff 287.4px,#008cff 297.8px,#0f1efa 308.2px,#0f1efa 318.6px,#0f1efa 329.0px,#008cff 339.4px,#008cff 349.8px,#0f1efa 360.2px,#008cff 370.6px,#00e6ff 380.9px,#008cff 391.3px,#0f1efa 401.7px,#0f1efa 412.1px,#0f1efa 422.5px,#008cff 432.9px,#00e6ff 443.3px,#0aff2d 453.7px,#0aff2d 464.1px,#96ff00 474.5px,#96ff00 484.9px,#ebff00 495.3px,#ffe600 505.7px,#ffaa00 516.1px,#ffaa00 526.4px,#ffe600 536.8px,#ebff00 547.2px,#96ff00 557.6px,#96ff00 568.0px,#0aff2d 578.4px,#00e6ff 588.8px,#00e6ff 599.2px)"></i>
<i style="left:847.78px;width:11.18px;background:linear-gradient(#0a000a 6.8px,#0a000a 17.2px,#0a000a 27.6px,#0a000a 38.0px,#20002a 48.4px,#20002a 58.8px,#20002a 69.2px,#44006c 79.6px,#44006c 89.9px,#44006c 100.3px,#44006c 110.7px,#44006c 121.1px,#44006c 131.5px,#44006c 141.9px,#44006c 152.3px,#3400b9 162.7px,#3400b9 173.1px,#3400b9 183.5px,#3400b9 193.9px,#3400b9 204.3px,#3400b9 214.7px,#0f1efa 225.1px,#0f1efa 235.4px,#0f1efa 245.8px,#0f1efa 256.2px,#0f1efa 266.6px,#0f1efa 277.0px,#0f1efa 287.4px,#0f1efa 297.8px,#008cff 308.2px,#008cff 318.6px,#008cff 329.0px,#00e6ff 339.4px,#00e6ff 349.8px,#00e6ff 360.2px,#00e6ff 370.6px,#00ff96 380.9px,#00ff96 391.3px,#00e6ff 401.7px,#00ff96 412.1px,#00ff96 422.5px,#00ff96 432.9px,#00ff96 443.3px,#0aff2d 453.7px,#0aff2d 464.1px,#96ff00 474.5px,#ebff00 484.9px,#ebff00 495.3px,#ffe600 505.7px,#ffaa00 516.1px,#ff5a00 526.4px,#ff5a00 536.8px,#ffaa00 547.2px,#ebff00 557.6px,#0aff2d 568.0px,#00ff96 578.4px,#00e6ff 588.8px,#00e6ff 599.2px)"></i>
<i style="left:858.37px;width:11.18px;background:linear-gradient(#0a000a 6.8px,#0a000a 17.2px,#0a000a 27.6px,#0a000a 38.0px,#20002a 48.4px,#20002a 58.8px,#20002a 69.2px,#44006c 79.6px,#44006c 89.9px,#44006c 100.3px,#44006c 110.7px,#44006c 121.1px,#44006c 131.5px,#44006c 141.9px,#44006c 152.3px,#3400b9 162.7px,#3400b9 173.1px,#0f1efa 183.5px,#3400b9 193.9px,#3400b9 204.3px,#0f1efa 214.7px,#0f1efa 225.1px,#0f1efa 235.4px,#0f1efa 245.8px,#008cff 256.2px,#008cff 266.6px,#008cff 277.0px,#0f1efa 287.4px,#0f1efa 297.8px,#008cff 308.2px,#008cff 318.6px,#008cff 329.0px,#008cff 339.4px,#00e6ff 349.8px,#00ff96 360.2px,#00ff96 370.6px,#00ff96 380.9px,#00ff96 391.3px,#00ff96 401.7px,#00ff96 412.1px,#00ff96 422.5px,#00ff96 432.9px,#00ff96 443.3px,#00ff96 453.7px,#0aff2d 464.1px,#ebff00 474.5px,#ebff00 484.9px,#ffe600 495.3px,#ffaa00 505.7px,#ffaa00 516.1px,#ff5a00 526.4px,#ff1400 536.8px,#ff1400 547.2px,#ff5a00 557.6px,#ffe600 568.0px,#00ff96 578.4px,#00e6ff 588.8px,#00e6ff 599.2px)"></i>
<i style="left:868.95px;width:11.18px;background:linear-gradient(#0a000a 6.8px,#0a000a 17.2px,#0a000a 27.6px,#0a000a 38.0px,#20002a 48.4px,#20002a 58.8px,#20002a 69.2px,#20002a 79.6px,#44006c 89.9px,#44006c 100.3px,#3400b9 110.7px,#44006c 121.1px,#44006c 131.5px,#44006c 141.9px,#44006c 152.3px,#3400b9 162.7px,#3400b9 173.1px,#3400b9 183.5px,#3400b9 193.9px,#3400b9 204.3px,#0f1efa 214.7px,#0f1efa 225.1px,#0f1efa 235.4px,#0f1efa 245.8px,#0f1efa 256.2px,#0f1efa 266.6px,#0f1efa 277.0px,#0f1efa 287.4px,#0f1efa 297.8px,#0f1efa 308.2px,#0f1efa 318.6px,#008cff 329.0px,#008cff 339.4px,#00e6ff 349.8px,#00e6ff 360.2px,#00e6ff 370.6px,#00ff96 380.9px,#00ff96 391.3px,#00e6ff 401.7px,#00e6ff 412.1px,#00e6ff 422.5px,#00ff96 432.9px,#00ff96 443.3px,#0aff2d 453.7px,#0aff2d 464.1px,#96ff00 474.5px,#ebff00 484.9px,#ffe600 495.3px,#ffaa00 505.7px,#ff5a00 516.1px,#ff5a00 526.4px,#ff5a00 536.8px,#ff1400 547.2px,#ff5a00 557.6px,#ff5a00 568.0px,#0aff2d 578.4px,#00e6ff 588.8px,#00e6ff 599.2px)"></i>
<i style="left:879.53px;width:11.18px;background:linear-gradient(#0a000a 6.8px,#0a000a 17.2px,#0a000a 27.6px,#0a000a 38.0px,#20002a 48.4px,#20002a 58.8px,#20002a 69.2px,#20002a 79.6px,#44006c 89.9px,#44006c 100.3px,#44006c 110.7px,#44006c 121.1px,#44006c 131.5px,#44006c 141.9px,#44006c 152.3px,#3400b9 162.7px,#3400b9 173.1px,#3400b9 183.5px,#3400b9 193.9px,#0f1efa 204.3px,#0f1efa 214.7px,#0f1efa 225.1px,#0f1efa 235.4px,#0f1efa 245.8px,#0f1efa 256.2px,#0f1efa 266.6px,#0f1efa 277.0px,#0f1efa 287.4px,#008cff 297.8px,#0f1efa 308.2px,#0f1efa 318.6px,#0f1efa 329.0px,#0f1efa 339.4px,#008cff 349.8px,#00e6ff 360.2px,#00e6ff 370.6px,#00e6ff 380.9px,#00e6ff 391.3px,#00e6ff 401.7px,#00e6ff 412.1px,#00e6ff 422.5px,#00e6ff 432.9px,#00ff96 443.3px,#00ff96 453.7px,#0aff2d 464.1px,#96ff00 474.5px,#96ff00 484.9px,#ebff00 495.3px,#ffe600 505.7px,#ffaa00 516.1px,#ff5a00 526.4px,#ff5a00 536.8px,#ff5a00 547.2px,#ff5a00 557.6px,#ff5a00 568.0px,#ebff00 578.4px,#00e6ff 588.8px,#00e6ff 599.2px)"></i>
<i style="left:890.12px;width:11.18px;background:linear-gradient(#0a000a 6.8px,#0a000a 17.2px,#0a000a 27.6px,#0a000a 38.0px,#20002a 48.4px,#20002a 58.8px,#20002a 69.2px,#20002a 79.6px,#20002a 89.9px,#20002a 100.3px,#20002a 110.7px,#20002a 121.1px,#44006c 131.5px,#44006c 141.9px,#44006c 152.3px,#3400b9 162.7px,#3400b9 173.1px,#3400b9 183.5px,#3400b9 193.9px,#3400b9 204.3px,#3400b9 214.7px,#3400b9 225.1px,#3400b9 235.4px,#0f1efa 245.8px,#0f1efa 256.2px,#0f1efa 266.6px,#0f1efa 277.0px,#0f1efa 287.4px,#0f1efa 297.8px,#0f1efa 308.2px,#0f1efa 318.6px,#3400b9 329.0px,#3400b9 339.4px,#0f1efa 349.8px,#008cff 360.2px,#008cff 370.6px,#00e6ff 380.9px,#00e6ff 391.3px,#00e6ff 401.7px,#00e6ff 412.1px,#00e6ff 422.5px,#00e6ff 432.9px,#00e6ff 443.3px,#0aff2d 453.7px,#00ff96 464.1px,#0aff2d 474.5px,#0aff2d 484.9px,#96ff00 495.3px,#ebff00 505.7px,#ffe600 516.1px,#ffe600 526.4px,#ffaa00 536.8px,#ffaa00 547.2px,#ffaa00 557.6px,#ffe600 568.0px,#00ff96 578.4px,#0f1efa 588.8px,#0f1efa 599.2px)"></i>
<i style="left:900.70px;width:11.18px;background:linear-gradient(#0a000a 6.8px,#0a000a 17.2px,#0a000a 27.6px,#0a000a 38.0px,#20002a 48.4px,#20002a 58.8px,#20002a 69.2px,#20002a 79.6px,#20002a 89.9px,#20002a 100.3px,#20002a 110.7px,#20002a 121.1px,#44006c 131.5px,#44006c 141.9px,#44006c 152.3px,#44006c 162.7px,#3400b9 173.1px,#3400b9 183.5px,#3400b9 193.9px,#3400b9 204.3px,#3400b9 214.7px,#3400b9 225.1px,#3400b9 235.4px,#0f1efa 245.8px,#0f1efa 256.2px,#0f1efa 266.6px,#0f1efa 277.0px,#0f1efa 287.4px,#0f1efa 297.8px,#0f1efa 308.2px,#0f1efa 318.6px,#0f1efa 329.0px,#0f1efa 339.4px,#0f1efa 349.8px,#008cff 360.2px,#00e6ff 370.6px,#00e6ff 380.9px,#00ff96 391.3px,#00ff96 401.7px,#00ff96 412.1px,#00ff96 422.5px,#00ff96 432.9px,#00e6ff 443.3px,#00e6ff 453.7px,#0aff2d 464.1px,#0aff2d 474.5px,#96ff00 484.9px,#96ff00 495.3px,#ebff00 505.7px,#ffe600 516.1px,#ebff00 526.4px,#96ff00 536.8px,#96ff00 547.2px,#ebff00 557.6px,#96ff00 568.0px,#0aff2d 578.4px,#00e6ff 588.8px,#00e6ff 599.2px)"></i>
<i style="left:911.28px;width:11.18px;background:linear-gradient(#0a000a 6.8px,#0a000a 17.2px,#0a000a 27.6px,#0a000a 38.0px,#20002a 48.4px,#20002a 58.8px,#20002a 69.2px,#20002a 79.6px,#20002a 89.9px,#20002a 100.3px,#20002a 110.7px,#20002a 121.1px,#44006c 131.5px,#44006c 141.9px,#44006c 152.3px,#3400b9 162.7px,#3400b9 173.1px,#3400b9 183.5px,#3400b9 193.9px,#3400b9 204.3px,#3400b9 214.7px,#3400b9 225.1px,#3400b9 235.4px,#0f1efa 245.8px,#0f1efa 256.2px,#0f1efa 266.6px,#0f1efa 277.0px,#0f1efa 287.4px,#0f1efa 297.8px,#0f1efa 308.2px,#0f1efa 318.6px,#3400b9 329.0px,#0f1efa 339.4px,#0f1efa 349.8px,#008cff 360.2px,#00e6ff 370.6px,#00e6ff 380.9px,#00e6ff 391.3px,#00e6ff 401.7px,#00e6ff 412.1px,#00e6ff 422.5px,#00e6ff 432.9px,#00e6ff 443.3px,#00ff96 453.7px,#0aff2d 464.1px,#96ff00 474.5px,#96ff00 484.9px,#96ff00 495.3px,#ebff00 505.7px,#ebff00 516.1px,#ebff00 526.4px,#ebff00 536.8px,#96ff00 547.2px,#96ff00 557.6px,#0aff2d 568.0px,#008cff 578.4px,#0f1efa 588.8px,#0f1efa 599.2px)"></i>
<i style="left:921.87px;width:11.18px;background:linear-gradient(#0a000a 6.8px,#0a000a 17.2px,#0a000a 27.6px,#0a000a 38.0px,#20002a 48.4px,#20002a 58.8px,#0a000a 69.2px,#20002a 79.6px,#0a000a 89.9px,#20002a 100.3px,#20002a 110.7px,#20002a 121.1px,#44006c 131.5px,#44006c 141.9px,#3400b9 152.3px,#3400b9 162.7px,#3400b9 173.1px,#3400b9 183.5px,#3400b9 193.9px,#3400b9 204.3px,#3400b9 214.7px,#3400b9 225.1px,#3400b9 235.4px,#0f1efa 245.8px,#0f1efa 256.2px,#0f1efa 266.6px,#0f1efa 277.0px,#0f1efa 287.4px,#0f1efa 297.8px,#0f1efa 308.2px,#3400b9 318.6px,#3400b9 329.0px,#3400b9 339.4px,#0f1efa 349.8px,#008cff 360.2px,#008cff 370.6px,#00e6ff 380.9px,#00e6ff 391.3px,#00e6ff 401.7px,#00e6ff 412.1px,#00e6ff 422.5px,#008cff 432.9px,#008cff 443.3px,#00ff96 453.7px,#0aff2d 464.1px,#96ff00 474.5px,#ebff00 484.9px,#ebff00 495.3px,#ebff00 505.7px,#ebff00 516.1px,#ebff00 526.4px,#96ff00 536.8px,#0aff2d 547.2px,#00ff96 557.6px,#008cff 568.0px,#0f1efa 578.4px,#0f1efa 588.8px,#0f1efa 599.2px)"></i>
<i style="left:932.45px;width:11.18px;background:linear-gradient(#0a000a 6.8px,#0a000a 17.2px,#0a000a 27.6px,#0a000a 38.0px,#0a000a 48.4px,#20002a 58.8px,#20002a 69.2px,#20002a 79.6px,#20002a 89.9px,#0a000a 100.3px,#20002a 110.7px,#20002a 121.1px,#44006c 131.5px,#3400b9 141.9px,#3400b9 152.3px,#3400b9 162.7px,#3400b9 173.1px,#3400b9 183.5px,#3400b9 193.9px,#3400b9 204.3px,#3400b9 214.7px,#3400b9 225.1px,#3400b9 235.4px,#0f1efa 245.8px,#0f1efa 256.2px,#0f1efa 266.6px,#0f1efa 277.0px,#008cff 287.4px,#008cff 297.8px,#0f1efa 308.2px,#3400b9 318.6px,#3400b9 329.0px,#3400b9 339.4px,#3400b9 349.8px,#0f1efa 360.2px,#008cff 370.6px,#008cff 380.9px,#008cff 391.3px,#00e6ff 401.7px,#00e6ff 412.1px,#008cff 422.5px,#008cff 432.9px,#008cff 443.3px,#0aff2d 453.7px,#0aff2d 464.1px,#96ff00 474.5px,#96ff00 484.9px,#ebff00 495.3px,#ebff00 505.7px,#ebff00 516.1px,#96ff00 526.4px,#0aff2d 536.8px,#00ff96 547.2px,#008cff 557.6px,#0f1efa 568.0px,#0f1efa 578.4px,#3400b9 588.8px,#3400b9 599.2px)"></i>
<i style="left:943.03px;width:11.18px;background:linear-gradient(#0a000a 6.8px,#0a000a 17.2px,#0a000a 27.6px,#0a000a 38.0px,#20002a 48.4px,#20002a 58.8px,#20002a 69.2px,#20002a 79.6px,#0a000a 89.9px,#0a000a 100.3px,#20002a 110.7px,#20002a 121.1px,#44006c 131.5px,#44006c 141.9px,#3400b9 152.3px,#44006c 162.7px,#3400b9 173.1px,#3400b9 183.5px,#3400b9 193.9px,#3400b9 204.3px,#3400b9 214.7px,#3400b9 225.1px,#3400b9 235.4px,#0f1efa 245.8px,#0f1efa 256.2px,#0f1efa 266.6px,#0f1efa 277.0px,#0f1efa 287.4px,#008cff 297.8px,#0f1efa 308.2px,#3400b9 318.6px,#3400b9 329.0px,#3400b9 339.4px,#3400b9 349.8px,#0f1efa 360.2px,#008cff 370.6px,#008cff 380.9px,#008cff 391.3px,#008cff 401.7px,#008cff 412.1px,#008cff 422.5px,#0f1efa 432.9px,#0f1efa 443.3px,#008cff 453.7px,#00ff96 464.1px,#0aff2d 474.5px,#0aff2d 484.9px,#0aff2d 495.3px,#0aff2d 505.7px,#0aff2d 516.1px,#00ff96 526.4px,#00e6ff 536.8px,#00e6ff 547.2px,#008cff 557.6px,#0f1efa 568.0px,#3400b9 578.4px,#44006c 588.8px,#44006c 599.2px)"></i>
<i style="left:953.62px;width:11.18px;background:linear-gradient(#0a000a 6.8px,#0a000a 17.2px,#0a000a 27.6px,#20002a 38.0px,#20002a 48.4px,#20002a 58.8px,#20002a 69.2px,#20002a 79.6px,#0a000a 89.9px,#0a000a 100.3px,#0a000a 110.7px,#20002a 121.1px,#44006c 131.5px,#44006c 141.9px,#44006c 152.3px,#44006c 162.7px,#44006c 173.1px,#3400b9 183.5px,#3400b9 193.9px,#3400b9 204.3px,#3400b9 214.7px,#0f1efa 225.1px,#0f1efa 235.4px,#0f1efa 245.8px,#0f1efa 256.2px,#0f1efa 266.6px,#0f1efa 277.0px,#0f1efa 287.4px,#0f1efa 297.8px,#0f1efa 308.2px,#3400b9 318.6px,#3400b9 329.0px,#3400b9 339.4px,#3400b9 349.8px,#0f1efa 360.2px,#008cff 370.6px,#008cff 380.9px,#00e6ff 391.3px,#00e6ff 401.7px,#00e6ff 412.1px,#00e6ff 422.5px,#008cff 432.9px,#008cff 443.3px,#0f1efa 453.7px,#008cff 464.1px,#00ff96 474.5px,#00e6ff 484.9px,#00e6ff 495.3px,#00e6ff 505.7px,#00e6ff 516.1px,#00e6ff 526.4px,#00e6ff 536.8px,#008cff 547.2px,#0f1efa 557.6px,#3400b9 568.0px,#3400b9 578.4px,#44006c 588.8px,#44006c 599.2px)"></i>
<i style="left:964.20px;width:11.18px;background:linear-gradient(#0a000a 6.8px,#0a000a 17.2px,#0a000a 27.6px,#20002a 38.0px,#20002a 48.4px,#20002a 58.8px,#20002a 69.2px,#20002a 79.6px,#20002a 89.9px,#0a000a 100.3px,#0a000a 110.7px,#20002a 121.1px,#20002a 131.5px,#44006c 141.9px,#44006c 152.3px,#44006c 162.7px,#44006c 173.1px,#3400b9 183.5px,#3400b9 193.9px,#3400b9 204.3px,#3400b9 214.7px,#0f1efa 225.1px,#0f1efa 235.4px,#0f1efa 245.8px,#0f1efa 256.2px,#0f1efa 266.6px,#0f1efa 277.0px,#0f1efa 287.4px,#0f1efa 297.8px,#0f1efa 308.2px,#3400b9 318.6px,#3400b9 329.0px,#3400b9 339.4px,#3400b9 349.8px,#0f1efa 360.2px,#0f1efa 370.6px,#008cff 380.9px,#00e6ff 391.3px,#00e6ff 401.7px,#00e6ff 412.1px,#00e6ff 422.5px,#00e6ff 432.9px,#00e6ff 443.3px,#00e6ff 453.7px,#00e6ff 464.1px,#00ff96 474.5px,#00ff96 484.9px,#00ff96 495.3px,#0aff2d 505.7px,#0aff2d 516.1px,#0aff2d 526.4px,#0aff2d 536.8px,#00ff96 547.2px,#00ff96 557.6px,#00e6ff 568.0px,#008cff 578.4px,#0f1efa 588.8px,#0f1efa 599.2px)"></i>
<i style="left:974.78px;width:11.18px;background:linear-gradient(#0a000a 6.8px,#0a000a 17.2px,#0a000a 27.6px,#20002a 38.0px,#20002a 48.4px,#20002a 58.8px,#20002a 69.2px,#20002a 79.6px,#20002a 89.9px,#0a000a 100.3px,#0a000a 110.7px,#20002a 121.1px,#20002a 131.5px,#20002a 141.9px,#44006c 152.3px,#44006c 162.7px,#44006c 173.1px,#3400b9 183.5px,#3400b9 193.9px,#3400b9 204.3px,#3400b9 214.7px,#0f1efa 225.1px,#0f1efa 235.4px,#0f1efa 245.8px,#0f1efa 256.2px,#0f1efa 266.6px,#0f1efa 277.0px,#0f1efa 287.4px,#008cff 297.8px,#0f1efa 308.2px,#0f1efa 318.6px,#0f1efa 329.0px,#3400b9 339.4px,#0f1efa 349.8px,#0f1efa 360.2px,#0f1efa 370.6px,#008cff 380.9px,#00e6ff 391.3px,#00e6ff 401.7px,#00e6ff 412.1px,#00e6ff 422.5px,#00e6ff 432.9px,#008cff 443.3px,#00e6ff 453.7px,#00ff96 464.1px,#0aff2d 474.5px,#96ff00 484.9px,#ebff00 495.3px,#ebff00 505.7px,#ffe600 516.1px,#ffe600 526.4px,#ffe600 536.8px,#ffaa00 547.2px,#ffaa00 557.6px,#ffe600 568.0px,#00e6ff 578.4px,#008cff 588.8px,#008cff 599.2px)"></i>
<i style="left:985.37px;width:11.18px;background:linear-gradient(#0a000a 6.8px,#0a000a 17.2px,#0a000a 27.6px,#20002a 38.0px,#20002a 48.4px,#20002a 58.8px,#20002a 69.2px,#20002a 79.6px,#20002a 89.9px,#20002a 100.3px,#0a000a 110.7px,#20002a 121.1px,#20002a 131.5px,#44006c 141.9px,#44006c 152.3px,#44006c 162.7px,#44006c 173.1px,#3400b9 183.5px,#3400b9 193.9px,#3400b9 204.3px,#3400b9 214.7px,#0f1efa 225.1px,#0f1efa 235.4px,#0f1efa 245.8px,#0f1efa 256.2px,#0f1efa 266.6px,#0f1efa 277.0px,#0f1efa 287.4px,#008cff 297.8px,#008cff 308.2px,#0f1efa 318.6px,#0f1efa 329.0px,#0f1efa 339.4px,#008cff 349.8px,#0f1efa 360.2px,#0f1efa 370.6px,#008cff 380.9px,#008cff 391.3px,#00e6ff 401.7px,#00e6ff 412.1px,#00e6ff 422.5px,#00ff96 432.9px,#00e6ff 443.3px,#00ff96 453.7px,#0aff2d 464.1px,#96ff00 474.5px,#ebff00 484.9px,#ebff00 495.3px,#ffe600 505.7px,#ffaa00 516.1px,#ffaa00 526.4px,#ffaa00 536.8px,#ffaa00 547.2px,#ffaa00 557.6px,#ebff00 568.0px,#00e6ff 578.4px,#008cff 588.8px,#008cff 599.2px)"></i>
<i style="left:995.95px;width:11.18px;background:linear-gradient(#0a000a 6.8px,#0a000a 17.2px,#0a000a 27.6px,#20002a 38.0px,#20002a 48.4px,#20002a 58.8px,#20002a 69.2px,#20002a 79.6px,#20002a 89.9px,#20002a 100.3px,#20002a 110.7px,#20002a 121.1px,#20002a 131.5px,#44006c 141.9px,#44006c 152.3px,#44006c 162.7px,#44006c 173.1px,#3400b9 183.5px,#3400b9 193.9px,#3400b9 204.3px,#3400b9 214.7px,#0f1efa 225.1px,#0f1efa 235.4px,#0f1efa 245.8px,#0f1efa 256.2px,#0f1efa 266.6px,#0f1efa 277.0px,#0f1efa 287.4px,#008cff 297.8px,#008cff 308.2px,#0f1efa 318.6px,#0f1efa 329.0px,#0f1efa 339.4px,#0f1efa 349.8px,#0f1efa 360.2px,#3400b9 370.6px,#0f1efa 380.9px,#0f1efa 391.3px,#008cff 401.7px,#00e6ff 412.1px,#00e6ff 422.5px,#00ff96 432.9px,#00ff96 443.3px,#0aff2d 453.7px,#0aff2d 464.1px,#0aff2d 474.5px,#96ff00 484.9px,#96ff00 495.3px,#96ff00 505.7px,#ebff00 516.1px,#96ff00 526.4px,#96ff00 536.8px,#0aff2d 547.2px,#0aff2d 557.6px,#00e6ff 568.0px,#008cff 578.4px,#0f1efa 588.8px,#0f1efa 599.2px)"></i>
<i style="left:1006.53px;width:11.18px;background:linear-gradient(#0a000a 6.8px,#0a000a 17.2px,#0a000a 27.6px,#20002a 38.0px,#44006c 48.4px,#20002a 58.8px,#20002a 69.2px,#20002a 79.6px,#20002a 89.9px,#20002a 100.3px,#20002a 110.7px,#20002a 121.1px,#20002a 131.5px,#44006c 141.9px,#44006c 152.3px,#44006c 162.7px,#44006c 173.1px,#3400b9 183.5px,#3400b9 193.9px,#3400b9 204.3px,#3400b9 214.7px,#0f1efa 225.1px,#008cff 235.4px,#008cff 245.8px,#0f1efa 256.2px,#0f1efa 266.6px,#0f1efa 277.0px,#0f1efa 287.4px,#008cff 297.8px,#008cff 308.2px,#008cff 318.6px,#008cff 329.0px,#0f1efa 339.4px,#0f1efa 349.8px,#0f1efa 360.2px,#0f1efa 370.6px,#0f1efa 380.9px,#0f1efa 391.3px,#008cff 401.7px,#00e6ff 412.1px,#00ff96 422.5px,#0aff2d 432.9px,#0aff2d 443.3px,#00ff96 453.7px,#00ff96 464.1px,#0aff2d 474.5px,#0aff2d 484.9px,#0aff2d 495.3px,#0aff2d 505.7px,#96ff00 516.1px,#96ff00 526.4px,#ebff00 536.8px,#ebff00 547.2px,#ebff00 557.6px,#96ff00 568.0px,#00ff96 578.4px,#00e6ff 588.8px,#00e6ff 599.2px)"></i>
<i style="left:1017.12px;width:11.18px;background:linear-gradient(#0a000a 6.8px,#0a000a 17.2px,#20002a 27.6px,#20002a 38.0px,#44006c 48.4px,#44006c 58.8px,#20002a 69.2px,#20002a 79.6px,#44006c 89.9px,#20002a 100.3px,#20002a 110.7px,#20002a 121.1px,#20002a 131.5px,#44006c 141.9px,#44006c 152.3px,#44006c 162.7px,#44006c 173.1px,#3400b9 183.5px,#3400b9 193.9px,#3400b9 204.3px,#3400b9 214.7px,#0f1efa 225.1px,#008cff 235.4px,#008cff 245.8px,#008cff 256.2px,#008cff 266.6px,#008cff 277.0px,#008cff 287.4px,#008cff 297.8px,#008cff 308.2px,#00e6ff 318.6px,#00e6ff 329.0px,#008cff 339.4px,#0f1efa 349.8px,#0f1efa 360.2px,#0f1efa 370.6px,#0f1efa 380.9px,#008cff 391.3px,#008cff 401.7px,#00e6ff 412.1px,#00ff96 422.5px,#0aff2d 432.9px,#00ff96 443.3px,#00ff96 453.7px,#00ff96 464.1px,#0aff2d 474.5px,#0aff2d 484.9px,#0aff2d 495.3px,#96ff00 505.7px,#ebff00 516.1px,#ffe600 526.4px,#ffaa00 536.8px,#ff5a00 547.2px,#ff5a00 557.6px,#ffaa00 568.0px,#ebff00 578.4px,#0aff2d 588.8px,#0aff2d 599.2px)"></i>
<i style="left:1027.70px;width:11.18px;background:linear-gradient(#0a000a 6.8px,#0a000a 17.2px,#20002a 27.6px,#20002a 38.0px,#44006c 48.4px,#44006c 58.8px,#20002a 69.2px,#20002a 79.6px,#44006c 89.9px,#20002a 100.3px,#20002a 110.7px,#20002a 121.1px,#20002a 131.5px,#44006c 141.9px,#44006c 152.3px,#44006c 162.7px,#44006c 173.1px,#3400b9 183.5px,#3400b9 193.9px,#3400b9 204.3px,#3400b9 214.7px,#0f1efa 225.1px,#008cff 235.4px,#008cff 245.8px,#008cff 256.2px,#008cff 266.6px,#008cff 277.0px,#008cff 287.4px,#008cff 297.8px,#008cff 308.2px,#00e6ff 318.6px,#00e6ff 329.0px,#008cff 339.4px,#0f1efa 349.8px,#0f1efa 360.2px,#0f1efa 370.6px,#0f1efa 380.9px,#008cff 391.3px,#008cff 401.7px,#00e6ff 412.1px,#00ff96 422.5px,#0aff2d 432.9px,#00ff96 443.3px,#00ff96 453.7px,#00ff96 464.1px,#0aff2d 474.5px,#0aff2d 484.9px,#0aff2d 495.3px,#96ff00 505.7px,#ebff00 516.1px,#ffe600 526.4px,#ffaa00 536.8px,#ff5a00 547.2px,#ff5a00 557.6px,#ffaa00 568.0px,#ebff00 578.4px,#0aff2d 588.8px,#0aff2d 599.2px)"></i>
<i style="left:1038.28px;width:11.18px;background:linear-gradient(#0a000a 6.8px,#0a000a 17.2px,#20002a 27.6px,#20002a 38.0px,#44006c 48.4px,#44006c 58.8px,#20002a 69.2px,#20002a 79.6px,#44006c 89.9px,#20002a 100.3px,#20002a 110.7px,#20002a 121.1px,#20002a 131.5px,#44006c 141.9px,#44006c 152.3px,#44006c 162.7px,#44006c 173.1px,#3400b9 183.5px,#3400b9 193.9px,#3400b9 204.3px,#3400b9 214.7px,#0f1efa 225.1px,#008cff 235.4px,#008cff 245.8px,#008cff 256.2px,#008cff 266.6px,#008cff 277.0px,#008cff 287.4px,#008cff 297.8px,#008cff 308.2px,#00e6ff 318.6px,#00e6ff 329.0px,#008cff 339.4px,#0f1efa 349.8px,#0f1efa 360.2px,#0f1efa 370.6px,#0f1efa 380.9px,#008cff 391.3px,#008cff 401.7px,#00e6ff 412.1px,#00ff96 422.5px,#0aff2d 432.9px,#00ff96 443.3px,#00ff96 453.7px,#00ff96 464.1px,#0aff2d 474.5px,#0aff2d 484.9px,#0aff2d 495.3px,#96ff00 505.7px,#ebff00 516.1px,#ffe600 526.4px,#ffaa00 536.8px,#ff5a00 547.2px,#ff5a00 557.6px,#ffaa00 568.0px,#ebff00 578.4px,#0aff2d 588.8px,#0aff2d 599.2px)"></i>
</div></div>
<div id="cb"><b style="top:62.5px"></b><b style="top:128.5px"></b><b style="top:194.5px"></b><b style="top:260.0px"></b><b style="top:326.0px"></b><b style="top:392.5px"></b><b style="top:458.0px"></b></div>
<svg width="1600" height="1000" viewBox="0 0 1600 1000">
<rect x="166" y="197" width="1024" height="3" fill="#000"/>
<rect x="166" y="782" width="1024" height="3" fill="#000"/>
<rect x="166" y="186" width="4" height="608" fill="#000"/>
<rect x="1186" y="186" width="4" height="608" fill="#000"/>
<rect x="166" y="186" width="4" height="11" fill="#000"/>
<rect x="166" y="785" width="4" height="10" fill="#000"/>
<rect x="251" y="192" width="4" height="5" fill="#000"/>
<rect x="251" y="785" width="4" height="3" fill="#000"/>
<rect x="336" y="192" width="4" height="5" fill="#000"/>
<rect x="336" y="785" width="4" height="3" fill="#000"/>
<rect x="421" y="186" width="4" height="11" fill="#000"/>
<rect x="421" y="785" width="4" height="10" fill="#000"/>
<rect x="506" y="192" width="4" height="5" fill="#000"/>
<rect x="506" y="785" width="4" height="3" fill="#000"/>
<rect x="591" y="192" width="4" height="5" fill="#000"/>
<rect x="591" y="785" width="4" height="3" fill="#000"/>
<rect x="676" y="186" width="4" height="11" fill="#000"/>
<rect x="676" y="785" width="4" height="10" fill="#000"/>
<rect x="761" y="192" width="4" height="5" fill="#000"/>
<rect x="761" y="785" width="4" height="3" fill="#000"/>
<rect x="846" y="192" width="4" height="5" fill="#000"/>
<rect x="846" y="785" width="4" height="3" fill="#000"/>
<rect x="931" y="186" width="4" height="11" fill="#000"/>
<rect x="931" y="785" width="4" height="10" fill="#000"/>
<rect x="1016" y="192" width="4" height="5" fill="#000"/>
<rect x="1016" y="785" width="4" height="3" fill="#000"/>
<rect x="1101" y="192" width="4" height="5" fill="#000"/>
<rect x="1101" y="785" width="4" height="3" fill="#000"/>
<rect x="1186" y="186" width="4" height="11" fill="#000"/>
<rect x="1186" y="785" width="4" height="10" fill="#000"/>
<rect x="148" y="197" width="18" height="3" fill="#000"/>
<rect x="1190" y="197" width="19" height="3" fill="#000"/>
<rect x="148" y="281" width="18" height="3" fill="#000"/>
<rect x="1190" y="281" width="19" height="3" fill="#000"/>
<rect x="148" y="364" width="18" height="3" fill="#000"/>
<rect x="1190" y="364" width="19" height="3" fill="#000"/>
<rect x="148" y="448" width="18" height="3" fill="#000"/>
<rect x="1190" y="448" width="19" height="3" fill="#000"/>
<rect x="148" y="531" width="18" height="3" fill="#000"/>
<rect x="1190" y="531" width="19" height="3" fill="#000"/>
<rect x="148" y="615" width="18" height="3" fill="#000"/>
<rect x="1190" y="615" width="19" height="3" fill="#000"/>
<rect x="148" y="698" width="18" height="3" fill="#000"/>
<rect x="1190" y="698" width="19" height="3" fill="#000"/>
<rect x="148" y="782" width="18" height="3" fill="#000"/>
<rect x="1190" y="782" width="19" height="3" fill="#000"/>
<text transform="translate(182,89.8) scale(0.927,1)" font-size="50" font-style="italic">NYA6 5577 Å</text>
<text transform="translate(184,120) scale(0.975,1)" font-size="32" font-style="italic">2018-12-17 05:00-06:00 UT</text>
<text x="679.3" y="132.3" font-size="33" text-anchor="middle">MLT</text>
<text x="168" y="168.2" font-size="32" text-anchor="middle">7.8</text>
<text x="423" y="168.2" font-size="32" text-anchor="middle">8.1</text>
<text x="678.5" y="168.2" font-size="32" text-anchor="middle">8.3</text>
<text x="933" y="168.2" font-size="32" text-anchor="middle">8.6</text>
<text x="1188" y="168.2" font-size="32" text-anchor="middle">8.9</text>
<text x="168" y="849" font-size="32" text-anchor="middle">05:00</text>
<text x="423" y="849" font-size="32" text-anchor="middle">05:15</text>
<text x="678.5" y="849" font-size="32" text-anchor="middle">05:30</text>
<text x="933" y="849" font-size="32" text-anchor="middle">05:45</text>
<text x="1188" y="849" font-size="32" text-anchor="middle">06:00</text>
<text x="678.5" y="895.3" font-size="32" text-anchor="middle">Time UT</text>
<text x="136.8" y="223" font-size="32" text-anchor="end">18.1</text>
<text x="136.8" y="296.3" font-size="32" text-anchor="end">40.8</text>
<text x="136.8" y="380" font-size="32" text-anchor="end">61.6</text>
<text x="136.8" y="463.3" font-size="32" text-anchor="end">80.7</text>
<text x="136.8" y="547" font-size="32" text-anchor="end">81.3</text>
<text x="136.8" y="630.3" font-size="32" text-anchor="end">62.2</text>
<text x="136.8" y="714" font-size="32" text-anchor="end">41.2</text>
<text x="136.8" y="782.4" font-size="32" text-anchor="end">18.0</text>
<text x="1220" y="223" font-size="32" text-anchor="start">80.5</text>
<text x="1220" y="296.3" font-size="32" text-anchor="start">78.0</text>
<text x="1220" y="380" font-size="32" text-anchor="start">77.1</text>
<text x="1220" y="463.3" font-size="32" text-anchor="start">76.6</text>
<text x="1220" y="547" font-size="32" text-anchor="start">76.2</text>
<text x="1220" y="630.3" font-size="32" text-anchor="start">75.7</text>
<text x="1220" y="714" font-size="32" text-anchor="start">74.9</text>
<text x="1220" y="782.4" font-size="32" text-anchor="start">72.4</text>
<text transform="translate(39.2,490) rotate(-90)" font-size="32" text-anchor="middle">Elevation</text>
<text transform="translate(1324.5,489.5) rotate(-90)" font-size="32" text-anchor="middle">MLAT</text>
<text transform="translate(1504,490) rotate(-90)" font-size="33" text-anchor="middle">Brightness [kR]</text>
<text x="1401.5" y="306.9" font-size="32" text-anchor="start">3.93</text>
<text x="1401.5" y="372.9" font-size="32" text-anchor="start">3.37</text>
<text x="1401.5" y="438.9" font-size="32" text-anchor="start">2.89</text>
<text x="1401.5" y="504.9" font-size="32" text-anchor="start">2.48</text>
<text x="1401.5" y="570.9" font-size="32" text-anchor="start">2.12</text>
<text x="1401.5" y="636.9" font-size="32" text-anchor="start">1.82</text>
<text x="1401.5" y="702.9" font-size="32" text-anchor="start">1.56</text>
</svg>
</body></html>
